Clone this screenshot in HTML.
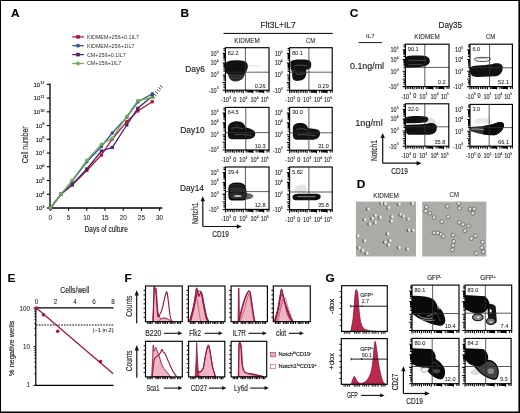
<!DOCTYPE html>
<html><head><meta charset="utf-8"><style>
html,body{margin:0;padding:0;background:#fff;width:520px;height:413px;overflow:hidden}
svg{display:block}
text{font-family:"Liberation Sans",sans-serif;stroke:#222;stroke-width:0.14px}
</style></head><body>
<svg width="520" height="413" viewBox="0 0 520 413" font-family="Liberation Sans, sans-serif">
<filter id="gb" x="0" y="0" width="1" height="1" color-interpolation-filters="sRGB"><feGaussianBlur stdDeviation="0.35"/></filter>
<g filter="url(#gb)">
<rect x="0" y="0" width="520" height="413" fill="#fff"/>
<text x="11" y="17.4" font-size="11" font-weight="bold" fill="#000" transform="translate(11,0) scale(1.08,1) translate(-11,0)">A</text>
<text x="180.5" y="17.0" font-size="11" font-weight="bold" fill="#000" transform="translate(180.5,0) scale(1.08,1) translate(-180.5,0)">B</text>
<text x="349.8" y="17.2" font-size="11" font-weight="bold" fill="#000" transform="translate(349.8,0) scale(1.08,1) translate(-349.8,0)">C</text>
<text x="356.8" y="188.4" font-size="11" font-weight="bold" fill="#000" transform="translate(356.8,0) scale(1.08,1) translate(-356.8,0)">D</text>
<text x="7.4" y="282.0" font-size="11" font-weight="bold" fill="#000" transform="translate(7.4,0) scale(1.08,1) translate(-7.4,0)">E</text>
<text x="124.6" y="282.0" font-size="11" font-weight="bold" fill="#000" transform="translate(124.6,0) scale(1.08,1) translate(-124.6,0)">F</text>
<text x="325.6" y="282.0" font-size="11" font-weight="bold" fill="#000" transform="translate(325.6,0) scale(1.08,1) translate(-325.6,0)">G</text>
<line x1="72.3" y1="36.9" x2="83.8" y2="36.9" stroke="#b0163a" stroke-width="1.3" />
<rect x="76.2" y="35.1" width="3.6" height="3.6" fill="#b0163a"/>
<text x="86.9" y="38.8" font-size="5.4" fill="#333" style="stroke-width:0">KIDMEM+25ß+0.1IL7</text>
<line x1="72.3" y1="45.7" x2="83.8" y2="45.7" stroke="#2c5592" stroke-width="1.3" />
<circle cx="78" cy="45.7" r="1.9" fill="#2c5592"/>
<text x="86.9" y="47.6" font-size="5.4" fill="#333" style="stroke-width:0">KIDMEM+25ß+1IL7</text>
<line x1="72.3" y1="54.6" x2="83.8" y2="54.6" stroke="#4a2468" stroke-width="1.3" />
<rect x="76.2" y="52.800000000000004" width="3.6" height="3.6" fill="#4a2468"/>
<text x="86.9" y="56.5" font-size="5.4" fill="#333" style="stroke-width:0">CM+25ß+0.1IL7</text>
<line x1="72.3" y1="63.5" x2="83.8" y2="63.5" stroke="#72ad58" stroke-width="1.3" />
<circle cx="78" cy="63.5" r="1.9" fill="#72ad58"/>
<text x="86.9" y="65.4" font-size="5.4" fill="#333" style="stroke-width:0">CM+25ß+1IL7</text>
<line x1="50" y1="83.5" x2="50" y2="208.6" stroke="#000" stroke-width="1.3" />
<line x1="49.4" y1="208" x2="162.3" y2="208" stroke="#000" stroke-width="1.3" />
<line x1="46.8" y1="208.0" x2="50" y2="208.0" stroke="#000" stroke-width="1.1" />
<text x="44.6" y="210.40" font-size="6.0" text-anchor="end" fill="#1a1a1a">10<tspan font-size="4.0" dy="-2.6">3</tspan></text>
<line x1="46.8" y1="194.26" x2="50" y2="194.26" stroke="#000" stroke-width="1.1" />
<text x="44.6" y="196.66" font-size="6.0" text-anchor="end" fill="#1a1a1a">10<tspan font-size="4.0" dy="-2.6">4</tspan></text>
<line x1="46.8" y1="180.52" x2="50" y2="180.52" stroke="#000" stroke-width="1.1" />
<text x="44.6" y="182.92" font-size="6.0" text-anchor="end" fill="#1a1a1a">10<tspan font-size="4.0" dy="-2.6">5</tspan></text>
<line x1="46.8" y1="166.78" x2="50" y2="166.78" stroke="#000" stroke-width="1.1" />
<text x="44.6" y="169.18" font-size="6.0" text-anchor="end" fill="#1a1a1a">10<tspan font-size="4.0" dy="-2.6">6</tspan></text>
<line x1="46.8" y1="153.04" x2="50" y2="153.04" stroke="#000" stroke-width="1.1" />
<text x="44.6" y="155.44" font-size="6.0" text-anchor="end" fill="#1a1a1a">10<tspan font-size="4.0" dy="-2.6">7</tspan></text>
<line x1="46.8" y1="139.3" x2="50" y2="139.3" stroke="#000" stroke-width="1.1" />
<text x="44.6" y="141.70" font-size="6.0" text-anchor="end" fill="#1a1a1a">10<tspan font-size="4.0" dy="-2.6">8</tspan></text>
<line x1="46.8" y1="125.56" x2="50" y2="125.56" stroke="#000" stroke-width="1.1" />
<text x="44.6" y="127.96" font-size="6.0" text-anchor="end" fill="#1a1a1a">10<tspan font-size="4.0" dy="-2.6">9</tspan></text>
<line x1="46.8" y1="111.82" x2="50" y2="111.82" stroke="#000" stroke-width="1.1" />
<text x="44.6" y="114.22" font-size="6.0" text-anchor="end" fill="#1a1a1a">10<tspan font-size="4.0" dy="-2.6">10</tspan></text>
<line x1="46.8" y1="98.08" x2="50" y2="98.08" stroke="#000" stroke-width="1.1" />
<text x="44.6" y="100.48" font-size="6.0" text-anchor="end" fill="#1a1a1a">10<tspan font-size="4.0" dy="-2.6">11</tspan></text>
<line x1="46.8" y1="84.34" x2="50" y2="84.34" stroke="#000" stroke-width="1.1" />
<text x="44.6" y="86.74" font-size="6.0" text-anchor="end" fill="#1a1a1a">10<tspan font-size="4.0" dy="-2.6">12</tspan></text>
<line x1="50.4" y1="208" x2="50.4" y2="211" stroke="#000" stroke-width="1.0" />
<text x="50.4" y="219.8" font-size="6.4" text-anchor="middle" fill="#1a1a1a"  style="stroke-width:0.05px">0</text>
<line x1="68.6" y1="208" x2="68.6" y2="211" stroke="#000" stroke-width="1.0" />
<text x="68.6" y="219.8" font-size="6.4" text-anchor="middle" fill="#1a1a1a"  style="stroke-width:0.05px">5</text>
<line x1="86.8" y1="208" x2="86.8" y2="211" stroke="#000" stroke-width="1.0" />
<text x="86.8" y="219.8" font-size="6.4" text-anchor="middle" fill="#1a1a1a"  style="stroke-width:0.05px">10</text>
<line x1="105.0" y1="208" x2="105.0" y2="211" stroke="#000" stroke-width="1.0" />
<text x="105.0" y="219.8" font-size="6.4" text-anchor="middle" fill="#1a1a1a"  style="stroke-width:0.05px">15</text>
<line x1="123.19999999999999" y1="208" x2="123.19999999999999" y2="211" stroke="#000" stroke-width="1.0" />
<text x="123.19999999999999" y="219.8" font-size="6.4" text-anchor="middle" fill="#1a1a1a"  style="stroke-width:0.05px">20</text>
<line x1="141.4" y1="208" x2="141.4" y2="211" stroke="#000" stroke-width="1.0" />
<text x="141.4" y="219.8" font-size="6.4" text-anchor="middle" fill="#1a1a1a"  style="stroke-width:0.05px">25</text>
<line x1="159.6" y1="208" x2="159.6" y2="211" stroke="#000" stroke-width="1.0" />
<text x="159.6" y="219.8" font-size="6.4" text-anchor="middle" fill="#1a1a1a"  style="stroke-width:0.05px">30</text>
<text x="84.6" y="232.2" font-size="8.8" textLength="43.3" lengthAdjust="spacingAndGlyphs" fill="#1a1a1a" >Days of culture</text>
<text transform="translate(28.4,144.9) rotate(-90)" x="0" y="0" font-size="8.6" text-anchor="middle" textLength="36.8" lengthAdjust="spacingAndGlyphs" fill="#1a1a1a">Cell number</text>
<polyline points="50.4,208.0 61.3,194.0 72.2,185.0 86.8,170.5 101.4,155.0 112.3,139.0 126.8,121.7 137.8,110.9 152.3,101.7" fill="none" stroke="#b0163a" stroke-width="1.3"/>
<rect x="48.8" y="206.4" width="3.2" height="3.2" fill="#b0163a"/>
<rect x="59.7" y="192.4" width="3.2" height="3.2" fill="#b0163a"/>
<rect x="70.6" y="183.4" width="3.2" height="3.2" fill="#b0163a"/>
<rect x="85.2" y="168.9" width="3.2" height="3.2" fill="#b0163a"/>
<rect x="99.8" y="153.4" width="3.2" height="3.2" fill="#b0163a"/>
<rect x="110.7" y="137.4" width="3.2" height="3.2" fill="#b0163a"/>
<rect x="125.2" y="120.1" width="3.2" height="3.2" fill="#b0163a"/>
<rect x="136.2" y="109.3" width="3.2" height="3.2" fill="#b0163a"/>
<rect x="150.7" y="100.1" width="3.2" height="3.2" fill="#b0163a"/>
<polyline points="50.4,208.0 61.3,194.0 72.2,184.5 86.8,169.0 101.4,151.0 112.3,147.4 126.8,125.0 137.8,108.3 152.3,96.3" fill="none" stroke="#4a2468" stroke-width="1.3"/>
<rect x="48.8" y="206.4" width="3.2" height="3.2" fill="#4a2468"/>
<rect x="59.7" y="192.4" width="3.2" height="3.2" fill="#4a2468"/>
<rect x="70.6" y="182.9" width="3.2" height="3.2" fill="#4a2468"/>
<rect x="85.2" y="167.4" width="3.2" height="3.2" fill="#4a2468"/>
<rect x="99.8" y="149.4" width="3.2" height="3.2" fill="#4a2468"/>
<rect x="110.7" y="145.8" width="3.2" height="3.2" fill="#4a2468"/>
<rect x="125.2" y="123.4" width="3.2" height="3.2" fill="#4a2468"/>
<rect x="136.2" y="106.7" width="3.2" height="3.2" fill="#4a2468"/>
<rect x="150.7" y="94.7" width="3.2" height="3.2" fill="#4a2468"/>
<polyline points="50.4,208.0 61.3,194.0 72.2,181.2 86.8,161.8 101.4,146.5 112.3,133.0 126.8,117.2 137.8,102.0 152.3,93.8" fill="none" stroke="#2c5592" stroke-width="1.3"/>
<circle cx="50.4" cy="208.0" r="1.8" fill="#2c5592"/>
<circle cx="61.3" cy="194.0" r="1.8" fill="#2c5592"/>
<circle cx="72.2" cy="181.2" r="1.8" fill="#2c5592"/>
<circle cx="86.8" cy="161.8" r="1.8" fill="#2c5592"/>
<circle cx="101.4" cy="146.5" r="1.8" fill="#2c5592"/>
<circle cx="112.3" cy="133.0" r="1.8" fill="#2c5592"/>
<circle cx="126.8" cy="117.2" r="1.8" fill="#2c5592"/>
<circle cx="137.8" cy="102.0" r="1.8" fill="#2c5592"/>
<circle cx="152.3" cy="93.8" r="1.8" fill="#2c5592"/>
<polyline points="50.4,208.0 61.3,194.0 72.2,180.3 86.8,160.3 101.4,144.3 112.3,138.3 126.8,116.3 137.8,100.6 152.3,97.5" fill="none" stroke="#72ad58" stroke-width="1.3"/>
<circle cx="50.4" cy="208.0" r="1.8" fill="#72ad58"/>
<circle cx="61.3" cy="194.0" r="1.8" fill="#72ad58"/>
<circle cx="72.2" cy="180.3" r="1.8" fill="#72ad58"/>
<circle cx="86.8" cy="160.3" r="1.8" fill="#72ad58"/>
<circle cx="101.4" cy="144.3" r="1.8" fill="#72ad58"/>
<circle cx="112.3" cy="138.3" r="1.8" fill="#72ad58"/>
<circle cx="126.8" cy="116.3" r="1.8" fill="#72ad58"/>
<circle cx="137.8" cy="100.6" r="1.8" fill="#72ad58"/>
<circle cx="152.3" cy="97.5" r="1.8" fill="#72ad58"/>
<line x1="152.1" y1="95.7" x2="154.9" y2="98.0" stroke="#3a3a3a" stroke-width="0.9" />
<line x1="153.65" y1="93.60000000000001" x2="156.45000000000002" y2="95.9" stroke="#3a3a3a" stroke-width="0.9" />
<line x1="155.2" y1="91.5" x2="158.0" y2="93.8" stroke="#3a3a3a" stroke-width="0.9" />
<line x1="156.75" y1="89.4" x2="159.55" y2="91.7" stroke="#3a3a3a" stroke-width="0.9" />
<line x1="158.29999999999998" y1="87.3" x2="161.1" y2="89.6" stroke="#3a3a3a" stroke-width="0.9" />
<line x1="159.85" y1="85.2" x2="162.65" y2="87.5" stroke="#3a3a3a" stroke-width="0.9" />
<text x="260.4" y="28" font-size="8.5" textLength="35.3" lengthAdjust="spacingAndGlyphs" fill="#1a1a1a" >Flt3L+IL7</text>
<line x1="223.5" y1="33.4" x2="332.7" y2="33.4" stroke="#000" stroke-width="1.0" />
<text x="234.3" y="42.6" font-size="6.3" textLength="25.4" lengthAdjust="spacingAndGlyphs" fill="#1a1a1a"  style="stroke-width:0.05px">KIDMEM</text>
<text x="305.9" y="42.6" font-size="6.3" textLength="9.2" lengthAdjust="spacingAndGlyphs" fill="#1a1a1a"  style="stroke-width:0.05px">CM</text>
<text x="185.3" y="72.4" font-size="8.6" textLength="19.6" lengthAdjust="spacingAndGlyphs" fill="#1a1a1a" >Day6</text>
<text x="180.2" y="132.8" font-size="8.6" textLength="24.4" lengthAdjust="spacingAndGlyphs" fill="#1a1a1a" >Day10</text>
<text x="179.9" y="191.2" font-size="8.6" textLength="24.1" lengthAdjust="spacingAndGlyphs" fill="#1a1a1a" >Day14</text>
<clipPath id="f225_47"><rect x="225.4" y="47.7" width="43.60" height="42.50"/></clipPath>
<g clip-path="url(#f225_47)">
<g transform="translate(220,45) scale(0.12092)"><path d="M62,225 C90,222 190,222 205,238 C202,272 175,302 130,302 C95,302 75,282 68,250 Z" fill="#353535" stroke="none" stroke-width="0" /></g>
<g transform="translate(220,45) scale(0.12092)"><path d="M100,260 C115,250 150,255 165,270 M90,285 C110,290 150,292 170,282" fill="none" stroke="#222" stroke-width="8" /></g>
<g transform="translate(220,45) scale(0.12092)"><path d="M48,150 C60,128 120,125 170,128 C215,130 232,150 230,180 C228,205 215,228 200,242 C150,248 100,244 60,238 L48,232 Z" fill="#111" stroke="none" stroke-width="0" /></g>
<g transform="translate(220,45) scale(0.12092)"><path d="M235,162 L330,165 L335,185 L235,185 Z" fill="#eee" stroke="none" stroke-width="0" /></g>
</g>
<line x1="245.4" y1="47.7" x2="245.4" y2="90.2" stroke="#333" stroke-width="0.8" />
<line x1="225.4" y1="72.2" x2="269" y2="72.2" stroke="#333" stroke-width="0.8" />
<rect x="225.4" y="47.7" width="43.60" height="42.50" fill="none" stroke="#000" stroke-width="1.15"/>
<path d="M222.60,53.23H225.4M222.60,63.00H225.4M222.60,74.90H225.4M222.60,82.55H225.4M222.60,90.20H225.4M223.40,71.32H225.4M223.40,69.22H225.4M223.40,67.74H225.4M223.40,66.58H225.4M223.40,65.64H225.4M223.40,64.84H225.4M223.40,64.15H225.4M223.40,63.54H225.4M223.40,60.06H225.4M223.40,58.34H225.4M223.40,57.11H225.4M223.40,56.17H225.4M223.40,55.39H225.4M223.40,54.74H225.4M223.40,54.17H225.4M223.40,53.67H225.4M223.40,50.28H225.4M223.40,48.56H225.4M223.40,76.60H225.4M223.40,78.30H225.4M223.40,80.00H225.4M223.40,84.25H225.4M223.40,85.95H225.4M223.40,87.65H225.4M225.40,90.2V93.20M234.12,90.2V93.20M243.28,90.2V93.20M252.87,90.2V93.20M263.77,90.2V93.20M246.16,90.2V92.60M247.85,90.2V92.60M249.05,90.2V92.60M249.98,90.2V92.60M250.74,90.2V92.60M251.38,90.2V92.60M251.94,90.2V92.60M252.43,90.2V92.60M256.15,90.2V92.60M258.07,90.2V92.60M259.43,90.2V92.60M260.49,90.2V92.60M261.35,90.2V92.60M262.08,90.2V92.60M262.71,90.2V92.60M263.27,90.2V92.60M267.05,90.2V92.60M268.97,90.2V92.60M227.14,90.2V92.60M228.89,90.2V92.60M230.63,90.2V92.60M232.38,90.2V92.60M236.30,90.2V92.60M238.04,90.2V92.60M239.79,90.2V92.60M241.53,90.2V92.60" stroke="#000" stroke-width="1.05" fill="none"/>
<text x="227.8" y="54.7" font-size="5.6" fill="#1a1a1a"  style="stroke-width:0.05px">82.2</text>
<text x="265.6" y="87.8" font-size="5.6" text-anchor="end" fill="#1a1a1a"  style="stroke-width:0.05px">0.26</text>
<text transform="translate(218.50,55.60) scale(0.84,1)" x="0" y="0" font-size="6.6" text-anchor="end" fill="#1a1a1a" style="stroke-width:0.1px">10<tspan font-size="3.96" dy="-3.10">5</tspan></text>
<text transform="translate(218.50,65.30) scale(0.84,1)" x="0" y="0" font-size="6.6" text-anchor="end" fill="#1a1a1a" style="stroke-width:0.1px">10<tspan font-size="3.96" dy="-3.10">4</tspan></text>
<text transform="translate(218.50,77.40) scale(0.84,1)" x="0" y="0" font-size="6.6" text-anchor="end" fill="#1a1a1a" style="stroke-width:0.1px">10<tspan font-size="3.96" dy="-3.10">3</tspan></text>
<text transform="translate(218.50,92.50) scale(0.84,1)" x="0" y="0" font-size="6.6" text-anchor="end" fill="#1a1a1a" style="stroke-width:0.1px">-10<tspan font-size="3.96" dy="-3.10">3</tspan></text>
<text transform="translate(226.10,102.10) scale(0.84,1)" x="0" y="0" font-size="6.6" text-anchor="middle" fill="#1a1a1a" style="stroke-width:0.1px">-10<tspan font-size="3.96" dy="-3.10">3</tspan></text>
<text x="234.70000000000002" y="102.10000000000001" font-size="6.6" text-anchor="middle" fill="#1a1a1a" transform="translate(234.70,0) scale(0.84,1) translate(-234.70,0)">0</text>
<text transform="translate(243.30,102.10) scale(0.84,1)" x="0" y="0" font-size="6.6" text-anchor="middle" fill="#1a1a1a" style="stroke-width:0.1px">10<tspan font-size="3.96" dy="-3.10">3</tspan></text>
<text transform="translate(254.50,102.10) scale(0.84,1)" x="0" y="0" font-size="6.6" text-anchor="middle" fill="#1a1a1a" style="stroke-width:0.1px">10<tspan font-size="3.96" dy="-3.10">4</tspan></text>
<text transform="translate(264.70,102.10) scale(0.84,1)" x="0" y="0" font-size="6.6" text-anchor="middle" fill="#1a1a1a" style="stroke-width:0.1px">10<tspan font-size="3.96" dy="-3.10">5</tspan></text>
<clipPath id="f289_47"><rect x="289.6" y="47.7" width="42.60" height="42.60"/></clipPath>
<g clip-path="url(#f289_47)">
<g transform="translate(285,45) scale(0.12092)"><path d="M45,140 C60,118 120,118 180,122 C215,125 222,150 215,180 C210,198 195,205 175,205 C180,235 175,270 150,285 C120,300 85,300 70,290 C55,270 60,240 60,220 C50,215 45,190 45,160 Z" fill="#111" stroke="none" stroke-width="0" /></g>
<g transform="translate(285,45) scale(0.12092)"><path d="M80,170 C110,163 150,166 182,172 M90,238 C110,244 140,244 160,236 M62,212 L85,212" fill="none" stroke="#777" stroke-width="5" /></g>
</g>
<line x1="308.9" y1="47.7" x2="308.9" y2="90.3" stroke="#333" stroke-width="0.8" />
<line x1="289.6" y1="72.2" x2="332.2" y2="72.2" stroke="#333" stroke-width="0.8" />
<rect x="289.6" y="47.7" width="42.60" height="42.60" fill="none" stroke="#000" stroke-width="1.15"/>
<path d="M286.80,53.24H289.6M286.80,63.04H289.6M286.80,74.96H289.6M286.80,82.63H289.6M286.80,90.30H289.6M287.60,71.37H289.6M287.60,69.27H289.6M287.60,67.78H289.6M287.60,66.63H289.6M287.60,65.68H289.6M287.60,64.88H289.6M287.60,64.19H289.6M287.60,63.58H289.6M287.60,60.09H289.6M287.60,58.36H289.6M287.60,57.14H289.6M287.60,56.19H289.6M287.60,55.41H289.6M287.60,54.76H289.6M287.60,54.19H289.6M287.60,53.69H289.6M287.60,50.29H289.6M287.60,48.56H289.6M287.60,76.67H289.6M287.60,78.37H289.6M287.60,80.08H289.6M287.60,84.34H289.6M287.60,86.04H289.6M287.60,87.74H289.6M289.60,90.3V93.30M298.12,90.3V93.30M307.07,90.3V93.30M316.44,90.3V93.30M327.09,90.3V93.30M309.89,90.3V92.70M311.54,90.3V92.70M312.71,90.3V92.70M313.62,90.3V92.70M314.36,90.3V92.70M314.99,90.3V92.70M315.53,90.3V92.70M316.01,90.3V92.70M319.64,90.3V92.70M321.52,90.3V92.70M322.85,90.3V92.70M323.88,90.3V92.70M324.73,90.3V92.70M325.44,90.3V92.70M326.06,90.3V92.70M326.60,90.3V92.70M330.29,90.3V92.70M332.17,90.3V92.70M291.30,90.3V92.70M293.01,90.3V92.70M294.71,90.3V92.70M296.42,90.3V92.70M300.25,90.3V92.70M301.95,90.3V92.70M303.66,90.3V92.70M305.36,90.3V92.70" stroke="#000" stroke-width="1.05" fill="none"/>
<text x="292.0" y="54.7" font-size="5.6" fill="#1a1a1a"  style="stroke-width:0.05px">80.1</text>
<text x="328.8" y="87.89999999999999" font-size="5.6" text-anchor="end" fill="#1a1a1a"  style="stroke-width:0.05px">0.29</text>
<text transform="translate(282.70,55.61) scale(0.84,1)" x="0" y="0" font-size="6.6" text-anchor="end" fill="#1a1a1a" style="stroke-width:0.1px">10<tspan font-size="3.96" dy="-3.10">5</tspan></text>
<text transform="translate(282.70,65.34) scale(0.84,1)" x="0" y="0" font-size="6.6" text-anchor="end" fill="#1a1a1a" style="stroke-width:0.1px">10<tspan font-size="3.96" dy="-3.10">4</tspan></text>
<text transform="translate(282.70,77.46) scale(0.84,1)" x="0" y="0" font-size="6.6" text-anchor="end" fill="#1a1a1a" style="stroke-width:0.1px">10<tspan font-size="3.96" dy="-3.10">3</tspan></text>
<text transform="translate(282.70,92.60) scale(0.84,1)" x="0" y="0" font-size="6.6" text-anchor="end" fill="#1a1a1a" style="stroke-width:0.1px">-10<tspan font-size="3.96" dy="-3.10">3</tspan></text>
<text transform="translate(290.28,102.20) scale(0.84,1)" x="0" y="0" font-size="6.6" text-anchor="middle" fill="#1a1a1a" style="stroke-width:0.1px">-10<tspan font-size="3.96" dy="-3.10">3</tspan></text>
<text x="298.68669724770643" y="102.2" font-size="6.6" text-anchor="middle" fill="#1a1a1a" transform="translate(298.69,0) scale(0.84,1) translate(-298.69,0)">0</text>
<text transform="translate(307.09,102.20) scale(0.84,1)" x="0" y="0" font-size="6.6" text-anchor="middle" fill="#1a1a1a" style="stroke-width:0.1px">10<tspan font-size="3.96" dy="-3.10">3</tspan></text>
<text transform="translate(318.03,102.20) scale(0.84,1)" x="0" y="0" font-size="6.6" text-anchor="middle" fill="#1a1a1a" style="stroke-width:0.1px">10<tspan font-size="3.96" dy="-3.10">4</tspan></text>
<text transform="translate(328.00,102.20) scale(0.84,1)" x="0" y="0" font-size="6.6" text-anchor="middle" fill="#1a1a1a" style="stroke-width:0.1px">10<tspan font-size="3.96" dy="-3.10">5</tspan></text>
<clipPath id="f225_107"><rect x="225.4" y="107.4" width="43.60" height="42.60"/></clipPath>
<g clip-path="url(#f225_107)">
<g transform="translate(220,104) scale(0.12092)"><path d="M65,200 C65,160 100,142 140,142 C185,142 205,165 212,195 C245,200 292,215 292,245 C292,278 262,292 200,292 L100,292 C75,292 65,278 65,250 Z" fill="#111" stroke="none" stroke-width="0" /></g>
<g transform="translate(220,104) scale(0.12092)"><path d="M120,255 C150,248 200,255 262,258 M95,200 C130,192 170,196 192,206 M130,175 L140,175" fill="none" stroke="#777" stroke-width="5" /></g>
</g>
<line x1="245.8" y1="107.4" x2="245.8" y2="150" stroke="#333" stroke-width="0.8" />
<line x1="225.4" y1="132.6" x2="269" y2="132.6" stroke="#333" stroke-width="0.8" />
<rect x="225.4" y="107.4" width="43.60" height="42.60" fill="none" stroke="#000" stroke-width="1.15"/>
<path d="M222.60,112.94H225.4M222.60,122.74H225.4M222.60,134.66H225.4M222.60,142.33H225.4M222.60,150.00H225.4M223.40,131.07H225.4M223.40,128.97H225.4M223.40,127.48H225.4M223.40,126.33H225.4M223.40,125.38H225.4M223.40,124.58H225.4M223.40,123.89H225.4M223.40,123.28H225.4M223.40,119.79H225.4M223.40,118.06H225.4M223.40,116.84H225.4M223.40,115.89H225.4M223.40,115.11H225.4M223.40,114.46H225.4M223.40,113.89H225.4M223.40,113.39H225.4M223.40,109.99H225.4M223.40,108.26H225.4M223.40,136.37H225.4M223.40,138.07H225.4M223.40,139.78H225.4M223.40,144.04H225.4M223.40,145.74H225.4M223.40,147.44H225.4M225.40,150V153.00M234.12,150V153.00M243.28,150V153.00M252.87,150V153.00M263.77,150V153.00M246.16,150V152.40M247.85,150V152.40M249.05,150V152.40M249.98,150V152.40M250.74,150V152.40M251.38,150V152.40M251.94,150V152.40M252.43,150V152.40M256.15,150V152.40M258.07,150V152.40M259.43,150V152.40M260.49,150V152.40M261.35,150V152.40M262.08,150V152.40M262.71,150V152.40M263.27,150V152.40M267.05,150V152.40M268.97,150V152.40M227.14,150V152.40M228.89,150V152.40M230.63,150V152.40M232.38,150V152.40M236.30,150V152.40M238.04,150V152.40M239.79,150V152.40M241.53,150V152.40" stroke="#000" stroke-width="1.05" fill="none"/>
<text x="227.8" y="114.4" font-size="5.6" fill="#1a1a1a"  style="stroke-width:0.05px">64.5</text>
<text x="265.6" y="147.6" font-size="5.6" text-anchor="end" fill="#1a1a1a"  style="stroke-width:0.05px">10.3</text>
<text transform="translate(218.50,115.31) scale(0.84,1)" x="0" y="0" font-size="6.6" text-anchor="end" fill="#1a1a1a" style="stroke-width:0.1px">10<tspan font-size="3.96" dy="-3.10">5</tspan></text>
<text transform="translate(218.50,125.04) scale(0.84,1)" x="0" y="0" font-size="6.6" text-anchor="end" fill="#1a1a1a" style="stroke-width:0.1px">10<tspan font-size="3.96" dy="-3.10">4</tspan></text>
<text transform="translate(218.50,137.16) scale(0.84,1)" x="0" y="0" font-size="6.6" text-anchor="end" fill="#1a1a1a" style="stroke-width:0.1px">10<tspan font-size="3.96" dy="-3.10">3</tspan></text>
<text transform="translate(218.50,152.30) scale(0.84,1)" x="0" y="0" font-size="6.6" text-anchor="end" fill="#1a1a1a" style="stroke-width:0.1px">-10<tspan font-size="3.96" dy="-3.10">3</tspan></text>
<text transform="translate(226.10,161.90) scale(0.84,1)" x="0" y="0" font-size="6.6" text-anchor="middle" fill="#1a1a1a" style="stroke-width:0.1px">-10<tspan font-size="3.96" dy="-3.10">3</tspan></text>
<text x="234.70000000000002" y="161.9" font-size="6.6" text-anchor="middle" fill="#1a1a1a" transform="translate(234.70,0) scale(0.84,1) translate(-234.70,0)">0</text>
<text transform="translate(243.30,161.90) scale(0.84,1)" x="0" y="0" font-size="6.6" text-anchor="middle" fill="#1a1a1a" style="stroke-width:0.1px">10<tspan font-size="3.96" dy="-3.10">3</tspan></text>
<text transform="translate(254.50,161.90) scale(0.84,1)" x="0" y="0" font-size="6.6" text-anchor="middle" fill="#1a1a1a" style="stroke-width:0.1px">10<tspan font-size="3.96" dy="-3.10">4</tspan></text>
<text transform="translate(264.70,161.90) scale(0.84,1)" x="0" y="0" font-size="6.6" text-anchor="middle" fill="#1a1a1a" style="stroke-width:0.1px">10<tspan font-size="3.96" dy="-3.10">5</tspan></text>
<clipPath id="f289_107"><rect x="289.6" y="107.4" width="42.60" height="42.80"/></clipPath>
<g clip-path="url(#f289_107)">
<g transform="translate(285,104) scale(0.12092)"><path d="M65,205 C65,170 90,158 125,158 C165,158 185,175 190,200 C220,200 290,205 290,235 C290,275 270,295 220,295 L100,295 C75,295 65,280 65,260 Z" fill="#111" stroke="none" stroke-width="0" /></g>
<g transform="translate(285,104) scale(0.12092)"><path d="M100,255 C140,248 200,258 252,260 M90,210 C120,203 160,204 182,214" fill="none" stroke="#777" stroke-width="5" /></g>
</g>
<line x1="308.9" y1="107.4" x2="308.9" y2="150.2" stroke="#333" stroke-width="0.8" />
<line x1="289.6" y1="132.8" x2="332.2" y2="132.8" stroke="#333" stroke-width="0.8" />
<rect x="289.6" y="107.4" width="42.60" height="42.80" fill="none" stroke="#000" stroke-width="1.15"/>
<path d="M286.80,112.96H289.6M286.80,122.81H289.6M286.80,134.79H289.6M286.80,142.50H289.6M286.80,150.20H289.6M287.60,131.18H289.6M287.60,129.07H289.6M287.60,127.58H289.6M287.60,126.42H289.6M287.60,125.47H289.6M287.60,124.66H289.6M287.60,123.97H289.6M287.60,123.36H289.6M287.60,119.84H289.6M287.60,118.11H289.6M287.60,116.88H289.6M287.60,115.93H289.6M287.60,115.15H289.6M287.60,114.49H289.6M287.60,113.92H289.6M287.60,113.41H289.6M287.60,110.00H289.6M287.60,108.27H289.6M287.60,136.50H289.6M287.60,138.22H289.6M287.60,139.93H289.6M287.60,144.21H289.6M287.60,145.92H289.6M287.60,147.63H289.6M289.60,150.2V153.20M298.12,150.2V153.20M307.07,150.2V153.20M316.44,150.2V153.20M327.09,150.2V153.20M309.89,150.2V152.60M311.54,150.2V152.60M312.71,150.2V152.60M313.62,150.2V152.60M314.36,150.2V152.60M314.99,150.2V152.60M315.53,150.2V152.60M316.01,150.2V152.60M319.64,150.2V152.60M321.52,150.2V152.60M322.85,150.2V152.60M323.88,150.2V152.60M324.73,150.2V152.60M325.44,150.2V152.60M326.06,150.2V152.60M326.60,150.2V152.60M330.29,150.2V152.60M332.17,150.2V152.60M291.30,150.2V152.60M293.01,150.2V152.60M294.71,150.2V152.60M296.42,150.2V152.60M300.25,150.2V152.60M301.95,150.2V152.60M303.66,150.2V152.60M305.36,150.2V152.60" stroke="#000" stroke-width="1.05" fill="none"/>
<text x="292.0" y="114.4" font-size="5.6" fill="#1a1a1a"  style="stroke-width:0.05px">30.0</text>
<text x="328.8" y="147.79999999999998" font-size="5.6" text-anchor="end" fill="#1a1a1a"  style="stroke-width:0.05px">31.0</text>
<text transform="translate(282.70,115.34) scale(0.84,1)" x="0" y="0" font-size="6.6" text-anchor="end" fill="#1a1a1a" style="stroke-width:0.1px">10<tspan font-size="3.96" dy="-3.10">5</tspan></text>
<text transform="translate(282.70,125.11) scale(0.84,1)" x="0" y="0" font-size="6.6" text-anchor="end" fill="#1a1a1a" style="stroke-width:0.1px">10<tspan font-size="3.96" dy="-3.10">4</tspan></text>
<text transform="translate(282.70,137.29) scale(0.84,1)" x="0" y="0" font-size="6.6" text-anchor="end" fill="#1a1a1a" style="stroke-width:0.1px">10<tspan font-size="3.96" dy="-3.10">3</tspan></text>
<text transform="translate(282.70,152.50) scale(0.84,1)" x="0" y="0" font-size="6.6" text-anchor="end" fill="#1a1a1a" style="stroke-width:0.1px">-10<tspan font-size="3.96" dy="-3.10">3</tspan></text>
<text transform="translate(290.28,162.10) scale(0.84,1)" x="0" y="0" font-size="6.6" text-anchor="middle" fill="#1a1a1a" style="stroke-width:0.1px">-10<tspan font-size="3.96" dy="-3.10">3</tspan></text>
<text x="298.68669724770643" y="162.1" font-size="6.6" text-anchor="middle" fill="#1a1a1a" transform="translate(298.69,0) scale(0.84,1) translate(-298.69,0)">0</text>
<text transform="translate(307.09,162.10) scale(0.84,1)" x="0" y="0" font-size="6.6" text-anchor="middle" fill="#1a1a1a" style="stroke-width:0.1px">10<tspan font-size="3.96" dy="-3.10">3</tspan></text>
<text transform="translate(318.03,162.10) scale(0.84,1)" x="0" y="0" font-size="6.6" text-anchor="middle" fill="#1a1a1a" style="stroke-width:0.1px">10<tspan font-size="3.96" dy="-3.10">4</tspan></text>
<text transform="translate(328.00,162.10) scale(0.84,1)" x="0" y="0" font-size="6.6" text-anchor="middle" fill="#1a1a1a" style="stroke-width:0.1px">10<tspan font-size="3.96" dy="-3.10">5</tspan></text>
<clipPath id="f225_167"><rect x="225.4" y="167" width="43.60" height="42.40"/></clipPath>
<g clip-path="url(#f225_167)">
<g transform="translate(220,164) scale(0.12092)"><path d="M210,240 C240,240 275,250 275,265 C275,285 240,295 200,295 Z" fill="#666" stroke="none" stroke-width="0" /></g>
<g transform="translate(220,164) scale(0.12092)"><path d="M75,200 C75,170 100,160 140,160 C185,160 205,175 210,200 L215,250 C215,280 210,295 190,295 L100,295 C80,295 75,280 75,260 Z" fill="#2a2a2a" stroke="#0a0a0a" stroke-width="12" /></g>
<g transform="translate(220,164) scale(0.12092)"><path d="M90,190 C120,180 170,182 200,195 M85,235 C120,228 170,230 205,240" fill="none" stroke="#0a0a0a" stroke-width="9" /></g>
<g transform="translate(220,164) scale(0.12092)"><path d="M110,265 C120,255 170,255 185,265 C170,275 120,275 110,265 Z" fill="#ddd" stroke="none" stroke-width="0" /></g>
</g>
<line x1="245.4" y1="167" x2="245.4" y2="209.4" stroke="#333" stroke-width="0.8" />
<line x1="225.4" y1="191.6" x2="269" y2="191.6" stroke="#333" stroke-width="0.8" />
<rect x="225.4" y="167" width="43.60" height="42.40" fill="none" stroke="#000" stroke-width="1.15"/>
<path d="M222.60,172.51H225.4M222.60,182.26H225.4M222.60,194.14H225.4M222.60,201.77H225.4M222.60,209.40H225.4M223.40,190.56H225.4M223.40,188.47H225.4M223.40,186.99H225.4M223.40,185.84H225.4M223.40,184.90H225.4M223.40,184.10H225.4M223.40,183.41H225.4M223.40,182.81H225.4M223.40,179.33H225.4M223.40,177.61H225.4M223.40,176.39H225.4M223.40,175.45H225.4M223.40,174.68H225.4M223.40,174.02H225.4M223.40,173.46H225.4M223.40,172.96H225.4M223.40,169.58H225.4M223.40,167.86H225.4M223.40,195.83H225.4M223.40,197.53H225.4M223.40,199.22H225.4M223.40,203.46H225.4M223.40,205.16H225.4M223.40,206.86H225.4M225.40,209.4V212.40M234.12,209.4V212.40M243.28,209.4V212.40M252.87,209.4V212.40M263.77,209.4V212.40M246.16,209.4V211.80M247.85,209.4V211.80M249.05,209.4V211.80M249.98,209.4V211.80M250.74,209.4V211.80M251.38,209.4V211.80M251.94,209.4V211.80M252.43,209.4V211.80M256.15,209.4V211.80M258.07,209.4V211.80M259.43,209.4V211.80M260.49,209.4V211.80M261.35,209.4V211.80M262.08,209.4V211.80M262.71,209.4V211.80M263.27,209.4V211.80M267.05,209.4V211.80M268.97,209.4V211.80M227.14,209.4V211.80M228.89,209.4V211.80M230.63,209.4V211.80M232.38,209.4V211.80M236.30,209.4V211.80M238.04,209.4V211.80M239.79,209.4V211.80M241.53,209.4V211.80" stroke="#000" stroke-width="1.05" fill="none"/>
<text x="227.8" y="174.0" font-size="5.6" fill="#1a1a1a"  style="stroke-width:0.05px">39.4</text>
<text x="265.6" y="207.0" font-size="5.6" text-anchor="end" fill="#1a1a1a"  style="stroke-width:0.05px">12.8</text>
<text transform="translate(218.50,174.89) scale(0.84,1)" x="0" y="0" font-size="6.6" text-anchor="end" fill="#1a1a1a" style="stroke-width:0.1px">10<tspan font-size="3.96" dy="-3.10">5</tspan></text>
<text transform="translate(218.50,184.56) scale(0.84,1)" x="0" y="0" font-size="6.6" text-anchor="end" fill="#1a1a1a" style="stroke-width:0.1px">10<tspan font-size="3.96" dy="-3.10">4</tspan></text>
<text transform="translate(218.50,196.64) scale(0.84,1)" x="0" y="0" font-size="6.6" text-anchor="end" fill="#1a1a1a" style="stroke-width:0.1px">10<tspan font-size="3.96" dy="-3.10">3</tspan></text>
<text transform="translate(218.50,211.70) scale(0.84,1)" x="0" y="0" font-size="6.6" text-anchor="end" fill="#1a1a1a" style="stroke-width:0.1px">-10<tspan font-size="3.96" dy="-3.10">3</tspan></text>
<text transform="translate(226.10,221.30) scale(0.84,1)" x="0" y="0" font-size="6.6" text-anchor="middle" fill="#1a1a1a" style="stroke-width:0.1px">-10<tspan font-size="3.96" dy="-3.10">3</tspan></text>
<text x="234.70000000000002" y="221.3" font-size="6.6" text-anchor="middle" fill="#1a1a1a" transform="translate(234.70,0) scale(0.84,1) translate(-234.70,0)">0</text>
<text transform="translate(243.30,221.30) scale(0.84,1)" x="0" y="0" font-size="6.6" text-anchor="middle" fill="#1a1a1a" style="stroke-width:0.1px">10<tspan font-size="3.96" dy="-3.10">3</tspan></text>
<text transform="translate(254.50,221.30) scale(0.84,1)" x="0" y="0" font-size="6.6" text-anchor="middle" fill="#1a1a1a" style="stroke-width:0.1px">10<tspan font-size="3.96" dy="-3.10">4</tspan></text>
<text transform="translate(264.70,221.30) scale(0.84,1)" x="0" y="0" font-size="6.6" text-anchor="middle" fill="#1a1a1a" style="stroke-width:0.1px">10<tspan font-size="3.96" dy="-3.10">5</tspan></text>
<clipPath id="f289_167"><rect x="289.6" y="167" width="42.60" height="42.70"/></clipPath>
<g clip-path="url(#f289_167)">
<g transform="translate(285,164) scale(0.12092)"><path d="M75,230 C80,180 120,165 170,175 C185,190 180,220 170,235 Z" fill="#e4e4e4" stroke="none" stroke-width="0" /></g>
<g transform="translate(285,164) scale(0.12092)"><path d="M62,270 C62,248 90,245 150,245 L250,245 C285,245 295,255 295,270 C295,290 270,300 230,300 L100,300 C70,300 62,290 62,270 Z" fill="#111" stroke="none" stroke-width="0" /></g>
<g transform="translate(285,164) scale(0.12092)"><path d="M105,270 L250,270" fill="none" stroke="#c8c8c8" stroke-width="5.5" /></g>
</g>
<line x1="308.9" y1="167" x2="308.9" y2="209.7" stroke="#333" stroke-width="0.8" />
<line x1="289.6" y1="192" x2="332.2" y2="192" stroke="#333" stroke-width="0.8" />
<rect x="289.6" y="167" width="42.60" height="42.70" fill="none" stroke="#000" stroke-width="1.15"/>
<path d="M286.80,172.55H289.6M286.80,182.37H289.6M286.80,194.33H289.6M286.80,202.01H289.6M286.80,209.70H289.6M287.60,190.73H289.6M287.60,188.62H289.6M287.60,187.13H289.6M287.60,185.97H289.6M287.60,185.02H289.6M287.60,184.22H289.6M287.60,183.53H289.6M287.60,182.92H289.6M287.60,179.42H289.6M287.60,177.69H289.6M287.60,176.46H289.6M287.60,175.51H289.6M287.60,174.73H289.6M287.60,174.07H289.6M287.60,173.50H289.6M287.60,173.00H289.6M287.60,169.59H289.6M287.60,167.87H289.6M287.60,196.04H289.6M287.60,197.74H289.6M287.60,199.45H289.6M287.60,203.72H289.6M287.60,205.43H289.6M287.60,207.14H289.6M289.60,209.7V212.70M298.12,209.7V212.70M307.07,209.7V212.70M316.44,209.7V212.70M327.09,209.7V212.70M309.89,209.7V212.10M311.54,209.7V212.10M312.71,209.7V212.10M313.62,209.7V212.10M314.36,209.7V212.10M314.99,209.7V212.10M315.53,209.7V212.10M316.01,209.7V212.10M319.64,209.7V212.10M321.52,209.7V212.10M322.85,209.7V212.10M323.88,209.7V212.10M324.73,209.7V212.10M325.44,209.7V212.10M326.06,209.7V212.10M326.60,209.7V212.10M330.29,209.7V212.10M332.17,209.7V212.10M291.30,209.7V212.10M293.01,209.7V212.10M294.71,209.7V212.10M296.42,209.7V212.10M300.25,209.7V212.10M301.95,209.7V212.10M303.66,209.7V212.10M305.36,209.7V212.10" stroke="#000" stroke-width="1.05" fill="none"/>
<text x="292.0" y="174.0" font-size="5.6" fill="#1a1a1a"  style="stroke-width:0.05px">5.82</text>
<text x="328.8" y="207.29999999999998" font-size="5.6" text-anchor="end" fill="#1a1a1a"  style="stroke-width:0.05px">35.8</text>
<text transform="translate(282.70,174.93) scale(0.84,1)" x="0" y="0" font-size="6.6" text-anchor="end" fill="#1a1a1a" style="stroke-width:0.1px">10<tspan font-size="3.96" dy="-3.10">5</tspan></text>
<text transform="translate(282.70,184.67) scale(0.84,1)" x="0" y="0" font-size="6.6" text-anchor="end" fill="#1a1a1a" style="stroke-width:0.1px">10<tspan font-size="3.96" dy="-3.10">4</tspan></text>
<text transform="translate(282.70,196.83) scale(0.84,1)" x="0" y="0" font-size="6.6" text-anchor="end" fill="#1a1a1a" style="stroke-width:0.1px">10<tspan font-size="3.96" dy="-3.10">3</tspan></text>
<text transform="translate(282.70,212.00) scale(0.84,1)" x="0" y="0" font-size="6.6" text-anchor="end" fill="#1a1a1a" style="stroke-width:0.1px">-10<tspan font-size="3.96" dy="-3.10">3</tspan></text>
<text transform="translate(290.28,221.60) scale(0.84,1)" x="0" y="0" font-size="6.6" text-anchor="middle" fill="#1a1a1a" style="stroke-width:0.1px">-10<tspan font-size="3.96" dy="-3.10">3</tspan></text>
<text x="298.68669724770643" y="221.6" font-size="6.6" text-anchor="middle" fill="#1a1a1a" transform="translate(298.69,0) scale(0.84,1) translate(-298.69,0)">0</text>
<text transform="translate(307.09,221.60) scale(0.84,1)" x="0" y="0" font-size="6.6" text-anchor="middle" fill="#1a1a1a" style="stroke-width:0.1px">10<tspan font-size="3.96" dy="-3.10">3</tspan></text>
<text transform="translate(318.03,221.60) scale(0.84,1)" x="0" y="0" font-size="6.6" text-anchor="middle" fill="#1a1a1a" style="stroke-width:0.1px">10<tspan font-size="3.96" dy="-3.10">4</tspan></text>
<text transform="translate(328.00,221.60) scale(0.84,1)" x="0" y="0" font-size="6.6" text-anchor="middle" fill="#1a1a1a" style="stroke-width:0.1px">10<tspan font-size="3.96" dy="-3.10">5</tspan></text>
<line x1="202.8" y1="200.8" x2="202.8" y2="226.5" stroke="#111" stroke-width="1.2" />
<path d="M202.8,196.3 L200.60000000000002,201.3 L205.0,201.3 Z" fill="#111"/>
<line x1="202.8" y1="226.5" x2="237.3" y2="226.5" stroke="#111" stroke-width="1.2" />
<path d="M241.8,226.5 L236.8,224.3 L236.8,228.7 Z" fill="#111"/>
<text transform="translate(198.2,213.3) rotate(-90)" x="0" y="0" font-size="8.6" text-anchor="middle" textLength="21.5" lengthAdjust="spacingAndGlyphs" fill="#1a1a1a">Notch1</text>
<text x="212.2" y="237.1" font-size="8.4" textLength="16.6" lengthAdjust="spacingAndGlyphs" fill="#1a1a1a" >CD19</text>
<text x="438.5" y="28.2" font-size="9.0" textLength="23.6" lengthAdjust="spacingAndGlyphs" fill="#1a1a1a" >Day35</text>
<text x="370.4" y="38.3" font-size="6.2" text-anchor="middle" fill="#1a1a1a"  style="stroke-width:0.05px">IL7</text>
<line x1="358.6" y1="42.6" x2="382" y2="42.6" stroke="#000" stroke-width="0.9" />
<text x="414.3" y="38.8" font-size="6.3" textLength="25.4" lengthAdjust="spacingAndGlyphs" fill="#1a1a1a"  style="stroke-width:0.05px">KIDMEM</text>
<text x="485.9" y="38.8" font-size="6.3" textLength="9.4" lengthAdjust="spacingAndGlyphs" fill="#1a1a1a"  style="stroke-width:0.05px">CM</text>
<text x="350" y="68.6" font-size="8.8" textLength="34" lengthAdjust="spacingAndGlyphs" fill="#1a1a1a" >0.1ng/ml</text>
<text x="355.3" y="125.6" font-size="8.8" textLength="27.4" lengthAdjust="spacingAndGlyphs" fill="#1a1a1a" >1ng/ml</text>
<clipPath id="f405_44"><rect x="405.4" y="44.2" width="43.60" height="42.40"/></clipPath>
<g clip-path="url(#f405_44)">
<g transform="translate(400,40) scale(0.12092)"><path d="M48,140 C60,128 130,125 200,130 C238,136 250,158 245,185 C237,212 200,220 160,225 L60,230 L48,226 Z" fill="#111" stroke="none" stroke-width="0" /></g>
<g transform="translate(400,40) scale(0.12092)"><path d="M70,170 C110,165 170,168 220,172 M70,205 C110,202 150,204 190,200" fill="none" stroke="#666" stroke-width="5" /></g>
</g>
<line x1="424.8" y1="44.2" x2="424.8" y2="86.6" stroke="#333" stroke-width="0.8" />
<line x1="405.4" y1="67.4" x2="449" y2="67.4" stroke="#333" stroke-width="0.8" />
<rect x="405.4" y="44.2" width="43.60" height="42.40" fill="none" stroke="#000" stroke-width="1.15"/>
<path d="M402.60,49.71H405.4M402.60,59.46H405.4M402.60,71.34H405.4M402.60,78.97H405.4M402.60,86.60H405.4M403.40,67.76H405.4M403.40,65.67H405.4M403.40,64.19H405.4M403.40,63.04H405.4M403.40,62.10H405.4M403.40,61.30H405.4M403.40,60.61H405.4M403.40,60.01H405.4M403.40,56.53H405.4M403.40,54.81H405.4M403.40,53.59H405.4M403.40,52.65H405.4M403.40,51.88H405.4M403.40,51.22H405.4M403.40,50.66H405.4M403.40,50.16H405.4M403.40,46.78H405.4M403.40,45.06H405.4M403.40,73.03H405.4M403.40,74.73H405.4M403.40,76.42H405.4M403.40,80.66H405.4M403.40,82.36H405.4M403.40,84.06H405.4M405.40,86.6V89.60M414.12,86.6V89.60M423.28,86.6V89.60M432.87,86.6V89.60M443.77,86.6V89.60M426.16,86.6V89.00M427.85,86.6V89.00M429.05,86.6V89.00M429.98,86.6V89.00M430.74,86.6V89.00M431.38,86.6V89.00M431.94,86.6V89.00M432.43,86.6V89.00M436.15,86.6V89.00M438.07,86.6V89.00M439.43,86.6V89.00M440.49,86.6V89.00M441.35,86.6V89.00M442.08,86.6V89.00M442.71,86.6V89.00M443.27,86.6V89.00M447.05,86.6V89.00M448.97,86.6V89.00M407.14,86.6V89.00M408.89,86.6V89.00M410.63,86.6V89.00M412.38,86.6V89.00M416.30,86.6V89.00M418.04,86.6V89.00M419.79,86.6V89.00M421.53,86.6V89.00" stroke="#000" stroke-width="1.05" fill="none"/>
<text x="407.79999999999995" y="51.2" font-size="5.6" fill="#1a1a1a"  style="stroke-width:0.05px">90.1</text>
<text x="445.6" y="84.19999999999999" font-size="5.6" text-anchor="end" fill="#1a1a1a"  style="stroke-width:0.05px">0.2</text>
<text transform="translate(398.50,52.09) scale(0.84,1)" x="0" y="0" font-size="6.6" text-anchor="end" fill="#1a1a1a" style="stroke-width:0.1px">10<tspan font-size="3.96" dy="-3.10">5</tspan></text>
<text transform="translate(398.50,61.76) scale(0.84,1)" x="0" y="0" font-size="6.6" text-anchor="end" fill="#1a1a1a" style="stroke-width:0.1px">10<tspan font-size="3.96" dy="-3.10">4</tspan></text>
<text transform="translate(398.50,73.84) scale(0.84,1)" x="0" y="0" font-size="6.6" text-anchor="end" fill="#1a1a1a" style="stroke-width:0.1px">10<tspan font-size="3.96" dy="-3.10">3</tspan></text>
<text transform="translate(398.50,88.90) scale(0.84,1)" x="0" y="0" font-size="6.6" text-anchor="end" fill="#1a1a1a" style="stroke-width:0.1px">-10<tspan font-size="3.96" dy="-3.10">3</tspan></text>
<text transform="translate(406.10,98.50) scale(0.84,1)" x="0" y="0" font-size="6.6" text-anchor="middle" fill="#1a1a1a" style="stroke-width:0.1px">-10<tspan font-size="3.96" dy="-3.10">3</tspan></text>
<text x="414.7" y="98.5" font-size="6.6" text-anchor="middle" fill="#1a1a1a" transform="translate(414.70,0) scale(0.84,1) translate(-414.70,0)">0</text>
<text transform="translate(423.30,98.50) scale(0.84,1)" x="0" y="0" font-size="6.6" text-anchor="middle" fill="#1a1a1a" style="stroke-width:0.1px">10<tspan font-size="3.96" dy="-3.10">3</tspan></text>
<text transform="translate(434.50,98.50) scale(0.84,1)" x="0" y="0" font-size="6.6" text-anchor="middle" fill="#1a1a1a" style="stroke-width:0.1px">10<tspan font-size="3.96" dy="-3.10">4</tspan></text>
<text transform="translate(444.70,98.50) scale(0.84,1)" x="0" y="0" font-size="6.6" text-anchor="middle" fill="#1a1a1a" style="stroke-width:0.1px">10<tspan font-size="3.96" dy="-3.10">5</tspan></text>
<clipPath id="f470_44"><rect x="470" y="44.2" width="42.40" height="42.40"/></clipPath>
<g clip-path="url(#f470_44)">
<g transform="translate(465,40) scale(0.12092)"><path d="M78,155 C78,142 200,140 210,150 C214,165 200,178 140,178 C92,177 78,168 78,155 Z" fill="none" stroke="#444" stroke-width="8" /></g>
<g transform="translate(465,40) scale(0.12092)"><path d="M95,160 C120,152 180,152 190,158" fill="none" stroke="#888" stroke-width="5" /></g>
<g transform="translate(465,40) scale(0.12092)"><path d="M42,225 C80,205 200,212 240,195 C280,185 312,200 312,225 C312,270 290,295 250,300 L100,305 C60,305 45,290 42,260 Z" fill="#111" stroke="none" stroke-width="0" /></g>
</g>
<line x1="489.6" y1="44.2" x2="489.6" y2="86.6" stroke="#333" stroke-width="0.8" />
<line x1="470" y1="67.8" x2="512.4" y2="67.8" stroke="#333" stroke-width="0.8" />
<rect x="470" y="44.2" width="42.40" height="42.40" fill="none" stroke="#000" stroke-width="1.15"/>
<path d="M467.20,49.71H470M467.20,59.46H470M467.20,71.34H470M467.20,78.97H470M467.20,86.60H470M468.00,67.76H470M468.00,65.67H470M468.00,64.19H470M468.00,63.04H470M468.00,62.10H470M468.00,61.30H470M468.00,60.61H470M468.00,60.01H470M468.00,56.53H470M468.00,54.81H470M468.00,53.59H470M468.00,52.65H470M468.00,51.88H470M468.00,51.22H470M468.00,50.66H470M468.00,50.16H470M468.00,46.78H470M468.00,45.06H470M468.00,73.03H470M468.00,74.73H470M468.00,76.42H470M468.00,80.66H470M468.00,82.36H470M468.00,84.06H470M470.00,86.6V89.60M478.48,86.6V89.60M487.38,86.6V89.60M496.71,86.6V89.60M507.31,86.6V89.60M490.19,86.6V89.00M491.83,86.6V89.00M493.00,86.6V89.00M493.90,86.6V89.00M494.64,86.6V89.00M495.27,86.6V89.00M495.81,86.6V89.00M496.29,86.6V89.00M499.90,86.6V89.00M501.77,86.6V89.00M503.09,86.6V89.00M504.12,86.6V89.00M504.96,86.6V89.00M505.67,86.6V89.00M506.28,86.6V89.00M506.83,86.6V89.00M510.50,86.6V89.00M512.37,86.6V89.00M471.70,86.6V89.00M473.39,86.6V89.00M475.09,86.6V89.00M476.78,86.6V89.00M480.60,86.6V89.00M482.30,86.6V89.00M483.99,86.6V89.00M485.69,86.6V89.00" stroke="#000" stroke-width="1.05" fill="none"/>
<text x="472.4" y="51.2" font-size="5.6" fill="#1a1a1a"  style="stroke-width:0.05px">6.0</text>
<text x="509.0" y="84.19999999999999" font-size="5.6" text-anchor="end" fill="#1a1a1a"  style="stroke-width:0.05px">52.1</text>
<text transform="translate(463.10,52.09) scale(0.84,1)" x="0" y="0" font-size="6.6" text-anchor="end" fill="#1a1a1a" style="stroke-width:0.1px">10<tspan font-size="3.96" dy="-3.10">5</tspan></text>
<text transform="translate(463.10,61.76) scale(0.84,1)" x="0" y="0" font-size="6.6" text-anchor="end" fill="#1a1a1a" style="stroke-width:0.1px">10<tspan font-size="3.96" dy="-3.10">4</tspan></text>
<text transform="translate(463.10,73.84) scale(0.84,1)" x="0" y="0" font-size="6.6" text-anchor="end" fill="#1a1a1a" style="stroke-width:0.1px">10<tspan font-size="3.96" dy="-3.10">3</tspan></text>
<text transform="translate(463.10,88.90) scale(0.84,1)" x="0" y="0" font-size="6.6" text-anchor="end" fill="#1a1a1a" style="stroke-width:0.1px">-10<tspan font-size="3.96" dy="-3.10">3</tspan></text>
<text transform="translate(470.68,98.50) scale(0.84,1)" x="0" y="0" font-size="6.6" text-anchor="middle" fill="#1a1a1a" style="stroke-width:0.1px">-10<tspan font-size="3.96" dy="-3.10">3</tspan></text>
<text x="479.0440366972477" y="98.5" font-size="6.6" text-anchor="middle" fill="#1a1a1a" transform="translate(479.04,0) scale(0.84,1) translate(-479.04,0)">0</text>
<text transform="translate(487.41,98.50) scale(0.84,1)" x="0" y="0" font-size="6.6" text-anchor="middle" fill="#1a1a1a" style="stroke-width:0.1px">10<tspan font-size="3.96" dy="-3.10">3</tspan></text>
<text transform="translate(498.30,98.50) scale(0.84,1)" x="0" y="0" font-size="6.6" text-anchor="middle" fill="#1a1a1a" style="stroke-width:0.1px">10<tspan font-size="3.96" dy="-3.10">4</tspan></text>
<text transform="translate(508.22,98.50) scale(0.84,1)" x="0" y="0" font-size="6.6" text-anchor="middle" fill="#1a1a1a" style="stroke-width:0.1px">10<tspan font-size="3.96" dy="-3.10">5</tspan></text>
<clipPath id="f405_103"><rect x="405.4" y="103.8" width="43.40" height="42.40"/></clipPath>
<g clip-path="url(#f405_103)">
<g transform="translate(400,99) scale(0.12092)"><path d="M220,150 C260,150 300,170 300,200 L220,200 Z" fill="#e0e0e0" stroke="none" stroke-width="0" /></g>
<g transform="translate(400,99) scale(0.12092)"><path d="M50,150 C80,138 180,138 218,146 C238,153 240,180 218,190 C180,200 100,200 50,202 Z" fill="#111" stroke="none" stroke-width="0" /></g>
<g transform="translate(400,99) scale(0.12092)"><path d="M50,215 C100,210 200,210 240,200 C280,195 305,210 305,235 C305,275 280,295 230,295 L80,295 C55,295 50,280 50,260 Z" fill="#111" stroke="none" stroke-width="0" /></g>
</g>
<line x1="424.8" y1="103.8" x2="424.8" y2="146.2" stroke="#333" stroke-width="0.8" />
<line x1="405.4" y1="126.8" x2="448.8" y2="126.8" stroke="#333" stroke-width="0.8" />
<rect x="405.4" y="103.8" width="43.40" height="42.40" fill="none" stroke="#000" stroke-width="1.15"/>
<path d="M402.60,109.31H405.4M402.60,119.06H405.4M402.60,130.94H405.4M402.60,138.57H405.4M402.60,146.20H405.4M403.40,127.36H405.4M403.40,125.27H405.4M403.40,123.79H405.4M403.40,122.64H405.4M403.40,121.70H405.4M403.40,120.90H405.4M403.40,120.21H405.4M403.40,119.61H405.4M403.40,116.13H405.4M403.40,114.41H405.4M403.40,113.19H405.4M403.40,112.25H405.4M403.40,111.48H405.4M403.40,110.82H405.4M403.40,110.26H405.4M403.40,109.76H405.4M403.40,106.38H405.4M403.40,104.66H405.4M403.40,132.63H405.4M403.40,134.33H405.4M403.40,136.02H405.4M403.40,140.26H405.4M403.40,141.96H405.4M403.40,143.66H405.4M405.40,146.2V149.20M414.08,146.2V149.20M423.19,146.2V149.20M432.74,146.2V149.20M443.59,146.2V149.20M426.07,146.2V148.60M427.75,146.2V148.60M428.94,146.2V148.60M429.87,146.2V148.60M430.62,146.2V148.60M431.26,146.2V148.60M431.82,146.2V148.60M432.31,146.2V148.60M436.01,146.2V148.60M437.92,146.2V148.60M439.27,146.2V148.60M440.33,146.2V148.60M441.18,146.2V148.60M441.91,146.2V148.60M442.54,146.2V148.60M443.10,146.2V148.60M446.86,146.2V148.60M448.77,146.2V148.60M407.14,146.2V148.60M408.87,146.2V148.60M410.61,146.2V148.60M412.34,146.2V148.60M416.25,146.2V148.60M417.99,146.2V148.60M419.72,146.2V148.60M421.46,146.2V148.60" stroke="#000" stroke-width="1.05" fill="none"/>
<text x="407.79999999999995" y="110.8" font-size="5.6" fill="#1a1a1a"  style="stroke-width:0.05px">32.0</text>
<text x="445.40000000000003" y="143.79999999999998" font-size="5.6" text-anchor="end" fill="#1a1a1a"  style="stroke-width:0.05px">35.8</text>
<text transform="translate(398.50,111.69) scale(0.84,1)" x="0" y="0" font-size="6.6" text-anchor="end" fill="#1a1a1a" style="stroke-width:0.1px">10<tspan font-size="3.96" dy="-3.10">5</tspan></text>
<text transform="translate(398.50,121.36) scale(0.84,1)" x="0" y="0" font-size="6.6" text-anchor="end" fill="#1a1a1a" style="stroke-width:0.1px">10<tspan font-size="3.96" dy="-3.10">4</tspan></text>
<text transform="translate(398.50,133.44) scale(0.84,1)" x="0" y="0" font-size="6.6" text-anchor="end" fill="#1a1a1a" style="stroke-width:0.1px">10<tspan font-size="3.96" dy="-3.10">3</tspan></text>
<text transform="translate(398.50,148.50) scale(0.84,1)" x="0" y="0" font-size="6.6" text-anchor="end" fill="#1a1a1a" style="stroke-width:0.1px">-10<tspan font-size="3.96" dy="-3.10">3</tspan></text>
<text transform="translate(406.10,158.10) scale(0.84,1)" x="0" y="0" font-size="6.6" text-anchor="middle" fill="#1a1a1a" style="stroke-width:0.1px">-10<tspan font-size="3.96" dy="-3.10">3</tspan></text>
<text x="414.65733944954127" y="158.1" font-size="6.6" text-anchor="middle" fill="#1a1a1a" transform="translate(414.66,0) scale(0.84,1) translate(-414.66,0)">0</text>
<text transform="translate(423.22,158.10) scale(0.84,1)" x="0" y="0" font-size="6.6" text-anchor="middle" fill="#1a1a1a" style="stroke-width:0.1px">10<tspan font-size="3.96" dy="-3.10">3</tspan></text>
<text transform="translate(434.37,158.10) scale(0.84,1)" x="0" y="0" font-size="6.6" text-anchor="middle" fill="#1a1a1a" style="stroke-width:0.1px">10<tspan font-size="3.96" dy="-3.10">4</tspan></text>
<text transform="translate(444.52,158.10) scale(0.84,1)" x="0" y="0" font-size="6.6" text-anchor="middle" fill="#1a1a1a" style="stroke-width:0.1px">10<tspan font-size="3.96" dy="-3.10">5</tspan></text>
<clipPath id="f470_104"><rect x="470" y="104.4" width="42.40" height="41.80"/></clipPath>
<g clip-path="url(#f470_104)">
<g transform="translate(465,99) scale(0.12092)"><path d="M75,205 C75,170 100,155 160,155 C215,155 232,175 228,205 Z" fill="#efefef" stroke="none" stroke-width="0" /></g>
<g transform="translate(465,99) scale(0.12092)"><path d="M90,190 C120,180 160,178 200,185 M100,170 C130,165 170,165 190,170" fill="none" stroke="#d8d8d8" stroke-width="5" /></g>
<g transform="translate(465,99) scale(0.12092)"><path d="M45,232 C100,225 200,222 250,202 C290,187 322,190 322,212 C322,250 290,290 240,300 C180,300 120,290 60,270 L45,260 Z" fill="#333" stroke="none" stroke-width="0" /></g>
<g transform="translate(465,99) scale(0.12092)"><path d="M150,225 C200,218 240,205 265,195 C300,185 322,195 322,215 C322,250 290,290 240,300 C200,300 170,295 150,290 Z" fill="#0a0a0a" stroke="none" stroke-width="0" /></g>
<g transform="translate(465,99) scale(0.12092)"><path d="M55,250 C90,245 130,250 160,255" fill="none" stroke="#bbb" stroke-width="7" /></g>
</g>
<line x1="489.2" y1="104.4" x2="489.2" y2="146.2" stroke="#333" stroke-width="0.8" />
<line x1="470" y1="127.6" x2="512.4" y2="127.6" stroke="#333" stroke-width="0.8" />
<rect x="470" y="104.4" width="42.40" height="41.80" fill="none" stroke="#000" stroke-width="1.15"/>
<path d="M467.20,109.83H470M467.20,119.45H470M467.20,131.15H470M467.20,138.68H470M467.20,146.20H470M468.00,127.63H470M468.00,125.57H470M468.00,124.11H470M468.00,122.97H470M468.00,122.04H470M468.00,121.26H470M468.00,120.58H470M468.00,119.98H470M468.00,116.55H470M468.00,114.86H470M468.00,113.66H470M468.00,112.73H470M468.00,111.97H470M468.00,111.32H470M468.00,110.77H470M468.00,110.27H470M468.00,106.94H470M468.00,105.25H470M468.00,132.82H470M468.00,134.50H470M468.00,136.17H470M468.00,140.35H470M468.00,142.02H470M468.00,143.69H470M470.00,146.2V149.20M478.48,146.2V149.20M487.38,146.2V149.20M496.71,146.2V149.20M507.31,146.2V149.20M490.19,146.2V148.60M491.83,146.2V148.60M493.00,146.2V148.60M493.90,146.2V148.60M494.64,146.2V148.60M495.27,146.2V148.60M495.81,146.2V148.60M496.29,146.2V148.60M499.90,146.2V148.60M501.77,146.2V148.60M503.09,146.2V148.60M504.12,146.2V148.60M504.96,146.2V148.60M505.67,146.2V148.60M506.28,146.2V148.60M506.83,146.2V148.60M510.50,146.2V148.60M512.37,146.2V148.60M471.70,146.2V148.60M473.39,146.2V148.60M475.09,146.2V148.60M476.78,146.2V148.60M480.60,146.2V148.60M482.30,146.2V148.60M483.99,146.2V148.60M485.69,146.2V148.60" stroke="#000" stroke-width="1.05" fill="none"/>
<text x="472.4" y="111.4" font-size="5.6" fill="#1a1a1a"  style="stroke-width:0.05px">3.0</text>
<text x="509.0" y="143.79999999999998" font-size="5.6" text-anchor="end" fill="#1a1a1a"  style="stroke-width:0.05px">66.1</text>
<text transform="translate(463.10,112.21) scale(0.84,1)" x="0" y="0" font-size="6.6" text-anchor="end" fill="#1a1a1a" style="stroke-width:0.1px">10<tspan font-size="3.96" dy="-3.10">5</tspan></text>
<text transform="translate(463.10,121.75) scale(0.84,1)" x="0" y="0" font-size="6.6" text-anchor="end" fill="#1a1a1a" style="stroke-width:0.1px">10<tspan font-size="3.96" dy="-3.10">4</tspan></text>
<text transform="translate(463.10,133.65) scale(0.84,1)" x="0" y="0" font-size="6.6" text-anchor="end" fill="#1a1a1a" style="stroke-width:0.1px">10<tspan font-size="3.96" dy="-3.10">3</tspan></text>
<text transform="translate(463.10,148.50) scale(0.84,1)" x="0" y="0" font-size="6.6" text-anchor="end" fill="#1a1a1a" style="stroke-width:0.1px">-10<tspan font-size="3.96" dy="-3.10">3</tspan></text>
<text transform="translate(470.68,158.10) scale(0.84,1)" x="0" y="0" font-size="6.6" text-anchor="middle" fill="#1a1a1a" style="stroke-width:0.1px">-10<tspan font-size="3.96" dy="-3.10">3</tspan></text>
<text x="479.0440366972477" y="158.1" font-size="6.6" text-anchor="middle" fill="#1a1a1a" transform="translate(479.04,0) scale(0.84,1) translate(-479.04,0)">0</text>
<text transform="translate(487.41,158.10) scale(0.84,1)" x="0" y="0" font-size="6.6" text-anchor="middle" fill="#1a1a1a" style="stroke-width:0.1px">10<tspan font-size="3.96" dy="-3.10">3</tspan></text>
<text transform="translate(498.30,158.10) scale(0.84,1)" x="0" y="0" font-size="6.6" text-anchor="middle" fill="#1a1a1a" style="stroke-width:0.1px">10<tspan font-size="3.96" dy="-3.10">4</tspan></text>
<text transform="translate(508.22,158.10) scale(0.84,1)" x="0" y="0" font-size="6.6" text-anchor="middle" fill="#1a1a1a" style="stroke-width:0.1px">10<tspan font-size="3.96" dy="-3.10">5</tspan></text>
<line x1="382.7" y1="137.5" x2="382.7" y2="163.2" stroke="#111" stroke-width="1.2" />
<path d="M382.7,133 L380.5,138.0 L384.9,138.0 Z" fill="#111"/>
<line x1="382.7" y1="163.2" x2="417.1" y2="163.2" stroke="#111" stroke-width="1.2" />
<path d="M421.6,163.2 L416.6,161.0 L416.6,165.39999999999998 Z" fill="#111"/>
<text transform="translate(377.3,150.6) rotate(-90)" x="0" y="0" font-size="8.6" text-anchor="middle" textLength="21" lengthAdjust="spacingAndGlyphs" fill="#1a1a1a">Notch1</text>
<text x="391.3" y="174.4" font-size="8.4" textLength="16.6" lengthAdjust="spacingAndGlyphs" fill="#1a1a1a" >CD19</text>
<text x="373.3" y="197.8" font-size="6.3" textLength="25.6" lengthAdjust="spacingAndGlyphs" fill="#1a1a1a"  style="stroke-width:0.05px">KIDMEM</text>
<text x="454.3" y="196.8" font-size="6.3" text-anchor="middle" textLength="9.4" lengthAdjust="spacingAndGlyphs" fill="#1a1a1a"  style="stroke-width:0.05px">CM</text>
<filter id="cb" x="-5%" y="-5%" width="110%" height="110%"><feGaussianBlur stdDeviation="0.45"/></filter>
<clipPath id="c1"><rect x="355.9" y="201.6" width="60.10" height="54.90"/></clipPath>
<rect x="355.9" y="201.6" width="60.10" height="54.90" fill="#a9aba6"/>
<g clip-path="url(#c1)"><g filter="url(#cb)">
<ellipse cx="367.2" cy="209.3" rx="1.44" ry="1.68" fill="#5f625d"/>
<ellipse cx="368.5" cy="209.0" rx="1.36" ry="1.60" fill="#e4e6e0"/>
<ellipse cx="380.6" cy="203.7" rx="1.44" ry="1.68" fill="#5f625d"/>
<ellipse cx="381.9" cy="203.4" rx="1.36" ry="1.60" fill="#e4e6e0"/>
<ellipse cx="384.1" cy="203.7" rx="1.44" ry="1.68" fill="#5f625d"/>
<ellipse cx="385.4" cy="203.4" rx="1.36" ry="1.60" fill="#e4e6e0"/>
<ellipse cx="387.6" cy="207.9" rx="1.44" ry="1.68" fill="#5f625d"/>
<ellipse cx="388.9" cy="207.6" rx="1.36" ry="1.60" fill="#e4e6e0"/>
<ellipse cx="398.1" cy="204.4" rx="1.44" ry="1.68" fill="#5f625d"/>
<ellipse cx="399.4" cy="204.1" rx="1.36" ry="1.60" fill="#e4e6e0"/>
<ellipse cx="411.4" cy="203.7" rx="1.44" ry="1.68" fill="#5f625d"/>
<ellipse cx="412.7" cy="203.4" rx="1.36" ry="1.60" fill="#e4e6e0"/>
<ellipse cx="374.3" cy="215.6" rx="1.44" ry="1.68" fill="#5f625d"/>
<ellipse cx="375.6" cy="215.3" rx="1.36" ry="1.60" fill="#e4e6e0"/>
<ellipse cx="379.2" cy="217.7" rx="1.44" ry="1.68" fill="#5f625d"/>
<ellipse cx="380.5" cy="217.4" rx="1.36" ry="1.60" fill="#e4e6e0"/>
<ellipse cx="371.4" cy="218.4" rx="1.44" ry="1.68" fill="#5f625d"/>
<ellipse cx="372.7" cy="218.1" rx="1.36" ry="1.60" fill="#e4e6e0"/>
<ellipse cx="363.7" cy="219.8" rx="1.44" ry="1.68" fill="#5f625d"/>
<ellipse cx="365.0" cy="219.5" rx="1.36" ry="1.60" fill="#e4e6e0"/>
<ellipse cx="368.6" cy="224.1" rx="1.44" ry="1.68" fill="#5f625d"/>
<ellipse cx="369.9" cy="223.8" rx="1.36" ry="1.60" fill="#e4e6e0"/>
<ellipse cx="374.3" cy="222.7" rx="1.44" ry="1.68" fill="#5f625d"/>
<ellipse cx="375.6" cy="222.4" rx="1.36" ry="1.60" fill="#e4e6e0"/>
<ellipse cx="391.1" cy="217.0" rx="1.44" ry="1.68" fill="#5f625d"/>
<ellipse cx="392.4" cy="216.7" rx="1.36" ry="1.60" fill="#e4e6e0"/>
<ellipse cx="390.4" cy="221.3" rx="1.44" ry="1.68" fill="#5f625d"/>
<ellipse cx="391.7" cy="221.0" rx="1.36" ry="1.60" fill="#e4e6e0"/>
<ellipse cx="399.5" cy="214.9" rx="1.44" ry="1.68" fill="#5f625d"/>
<ellipse cx="400.8" cy="214.6" rx="1.36" ry="1.60" fill="#e4e6e0"/>
<ellipse cx="402.3" cy="216.3" rx="1.44" ry="1.68" fill="#5f625d"/>
<ellipse cx="403.6" cy="216.0" rx="1.36" ry="1.60" fill="#e4e6e0"/>
<ellipse cx="407.2" cy="219.1" rx="1.44" ry="1.68" fill="#5f625d"/>
<ellipse cx="408.5" cy="218.8" rx="1.36" ry="1.60" fill="#e4e6e0"/>
<ellipse cx="386.9" cy="233.9" rx="1.44" ry="1.68" fill="#5f625d"/>
<ellipse cx="388.2" cy="233.6" rx="1.36" ry="1.60" fill="#e4e6e0"/>
<ellipse cx="407.9" cy="230.4" rx="1.44" ry="1.68" fill="#5f625d"/>
<ellipse cx="409.2" cy="230.1" rx="1.36" ry="1.60" fill="#e4e6e0"/>
<ellipse cx="412.1" cy="230.4" rx="1.44" ry="1.68" fill="#5f625d"/>
<ellipse cx="413.4" cy="230.1" rx="1.36" ry="1.60" fill="#e4e6e0"/>
<ellipse cx="356.7" cy="236.0" rx="1.44" ry="1.68" fill="#5f625d"/>
<ellipse cx="358.0" cy="235.7" rx="1.36" ry="1.60" fill="#e4e6e0"/>
<ellipse cx="363.7" cy="240.9" rx="1.44" ry="1.68" fill="#5f625d"/>
<ellipse cx="365.0" cy="240.6" rx="1.36" ry="1.60" fill="#e4e6e0"/>
<ellipse cx="384.1" cy="242.3" rx="1.44" ry="1.68" fill="#5f625d"/>
<ellipse cx="385.4" cy="242.0" rx="1.36" ry="1.60" fill="#e4e6e0"/>
<ellipse cx="387.6" cy="245.1" rx="1.44" ry="1.68" fill="#5f625d"/>
<ellipse cx="388.9" cy="244.8" rx="1.36" ry="1.60" fill="#e4e6e0"/>
<ellipse cx="389.0" cy="240.9" rx="1.44" ry="1.68" fill="#5f625d"/>
<ellipse cx="390.3" cy="240.6" rx="1.36" ry="1.60" fill="#e4e6e0"/>
<ellipse cx="398.1" cy="247.9" rx="1.44" ry="1.68" fill="#5f625d"/>
<ellipse cx="399.4" cy="247.6" rx="1.36" ry="1.60" fill="#e4e6e0"/>
<ellipse cx="406.5" cy="249.3" rx="1.44" ry="1.68" fill="#5f625d"/>
<ellipse cx="407.8" cy="249.0" rx="1.36" ry="1.60" fill="#e4e6e0"/>
<ellipse cx="361.6" cy="250.7" rx="1.44" ry="1.68" fill="#5f625d"/>
<ellipse cx="362.9" cy="250.4" rx="1.36" ry="1.60" fill="#e4e6e0"/>
<ellipse cx="365.8" cy="253.5" rx="1.44" ry="1.68" fill="#5f625d"/>
<ellipse cx="367.1" cy="253.2" rx="1.36" ry="1.60" fill="#e4e6e0"/>
<ellipse cx="358.1" cy="247.9" rx="1.44" ry="1.68" fill="#5f625d"/>
<ellipse cx="359.4" cy="247.6" rx="1.36" ry="1.60" fill="#e4e6e0"/>
</g></g>
<clipPath id="c2"><rect x="422.2" y="201.6" width="64.10" height="54.90"/></clipPath>
<rect x="422.2" y="201.6" width="64.10" height="54.90" fill="#abada8"/>
<g clip-path="url(#c2)"><g filter="url(#cb)">
<circle cx="426.3" cy="207.0" r="1.90" fill="#d3d5cf" stroke="#5e615b" stroke-width="0.8"/>
<circle cx="426.8" cy="206.5" r="0.85" fill="#e8eae4"/>
<circle cx="425.6" cy="211.2" r="1.90" fill="#d3d5cf" stroke="#5e615b" stroke-width="0.8"/>
<circle cx="426.1" cy="210.7" r="0.85" fill="#e8eae4"/>
<circle cx="429.8" cy="213.3" r="1.90" fill="#d3d5cf" stroke="#5e615b" stroke-width="0.8"/>
<circle cx="430.3" cy="212.8" r="0.85" fill="#e8eae4"/>
<circle cx="434.0" cy="217.6" r="1.90" fill="#d3d5cf" stroke="#5e615b" stroke-width="0.8"/>
<circle cx="434.5" cy="217.1" r="0.85" fill="#e8eae4"/>
<circle cx="447.4" cy="206.3" r="1.90" fill="#d3d5cf" stroke="#5e615b" stroke-width="0.8"/>
<circle cx="447.9" cy="205.8" r="0.85" fill="#e8eae4"/>
<circle cx="458.6" cy="203.5" r="1.90" fill="#d3d5cf" stroke="#5e615b" stroke-width="0.8"/>
<circle cx="459.1" cy="203.0" r="0.85" fill="#e8eae4"/>
<circle cx="459.3" cy="208.4" r="1.90" fill="#d3d5cf" stroke="#5e615b" stroke-width="0.8"/>
<circle cx="459.8" cy="207.9" r="0.85" fill="#e8eae4"/>
<circle cx="469.9" cy="209.1" r="1.90" fill="#d3d5cf" stroke="#5e615b" stroke-width="0.8"/>
<circle cx="470.4" cy="208.6" r="0.85" fill="#e8eae4"/>
<circle cx="474.1" cy="209.1" r="1.90" fill="#d3d5cf" stroke="#5e615b" stroke-width="0.8"/>
<circle cx="474.6" cy="208.6" r="0.85" fill="#e8eae4"/>
<circle cx="472.7" cy="213.3" r="1.90" fill="#d3d5cf" stroke="#5e615b" stroke-width="0.8"/>
<circle cx="473.2" cy="212.8" r="0.85" fill="#e8eae4"/>
<circle cx="448.1" cy="216.9" r="1.90" fill="#d3d5cf" stroke="#5e615b" stroke-width="0.8"/>
<circle cx="448.6" cy="216.4" r="0.85" fill="#e8eae4"/>
<circle cx="441.8" cy="221.8" r="1.90" fill="#d3d5cf" stroke="#5e615b" stroke-width="0.8"/>
<circle cx="442.3" cy="221.3" r="0.85" fill="#e8eae4"/>
<circle cx="459.3" cy="222.5" r="1.90" fill="#d3d5cf" stroke="#5e615b" stroke-width="0.8"/>
<circle cx="459.8" cy="222.0" r="0.85" fill="#e8eae4"/>
<circle cx="462.8" cy="224.6" r="1.90" fill="#d3d5cf" stroke="#5e615b" stroke-width="0.8"/>
<circle cx="463.3" cy="224.1" r="0.85" fill="#e8eae4"/>
<circle cx="468.5" cy="226.0" r="1.90" fill="#d3d5cf" stroke="#5e615b" stroke-width="0.8"/>
<circle cx="469.0" cy="225.5" r="0.85" fill="#e8eae4"/>
<circle cx="464.9" cy="230.9" r="1.90" fill="#d3d5cf" stroke="#5e615b" stroke-width="0.8"/>
<circle cx="465.4" cy="230.4" r="0.85" fill="#e8eae4"/>
<circle cx="434.0" cy="233.0" r="1.90" fill="#d3d5cf" stroke="#5e615b" stroke-width="0.8"/>
<circle cx="434.5" cy="232.5" r="0.85" fill="#e8eae4"/>
<circle cx="437.6" cy="233.0" r="1.90" fill="#d3d5cf" stroke="#5e615b" stroke-width="0.8"/>
<circle cx="438.1" cy="232.5" r="0.85" fill="#e8eae4"/>
<circle cx="441.1" cy="234.4" r="1.90" fill="#d3d5cf" stroke="#5e615b" stroke-width="0.8"/>
<circle cx="441.6" cy="233.9" r="0.85" fill="#e8eae4"/>
<circle cx="443.2" cy="236.5" r="1.90" fill="#d3d5cf" stroke="#5e615b" stroke-width="0.8"/>
<circle cx="443.7" cy="236.0" r="0.85" fill="#e8eae4"/>
<circle cx="453.0" cy="235.1" r="1.90" fill="#d3d5cf" stroke="#5e615b" stroke-width="0.8"/>
<circle cx="453.5" cy="234.6" r="0.85" fill="#e8eae4"/>
<circle cx="453.7" cy="241.4" r="1.90" fill="#d3d5cf" stroke="#5e615b" stroke-width="0.8"/>
<circle cx="454.2" cy="240.9" r="0.85" fill="#e8eae4"/>
<circle cx="453.0" cy="245.6" r="1.90" fill="#d3d5cf" stroke="#5e615b" stroke-width="0.8"/>
<circle cx="453.5" cy="245.1" r="0.85" fill="#e8eae4"/>
<circle cx="452.3" cy="249.9" r="1.90" fill="#d3d5cf" stroke="#5e615b" stroke-width="0.8"/>
<circle cx="452.8" cy="249.4" r="0.85" fill="#e8eae4"/>
<circle cx="475.5" cy="235.8" r="1.90" fill="#d3d5cf" stroke="#5e615b" stroke-width="0.8"/>
<circle cx="476.0" cy="235.3" r="0.85" fill="#e8eae4"/>
<circle cx="471.3" cy="238.6" r="1.90" fill="#d3d5cf" stroke="#5e615b" stroke-width="0.8"/>
<circle cx="471.8" cy="238.1" r="0.85" fill="#e8eae4"/>
<circle cx="482.5" cy="242.1" r="1.90" fill="#d3d5cf" stroke="#5e615b" stroke-width="0.8"/>
<circle cx="483.0" cy="241.6" r="0.85" fill="#e8eae4"/>
<circle cx="481.8" cy="247.8" r="1.90" fill="#d3d5cf" stroke="#5e615b" stroke-width="0.8"/>
<circle cx="482.3" cy="247.3" r="0.85" fill="#e8eae4"/>
<circle cx="476.2" cy="253.4" r="1.90" fill="#d3d5cf" stroke="#5e615b" stroke-width="0.8"/>
<circle cx="476.7" cy="252.9" r="0.85" fill="#e8eae4"/>
<circle cx="483.2" cy="252.0" r="1.90" fill="#d3d5cf" stroke="#5e615b" stroke-width="0.8"/>
<circle cx="483.7" cy="251.5" r="0.85" fill="#e8eae4"/>
</g></g>
<text x="60.3" y="293.3" font-size="8.2" textLength="28.9" lengthAdjust="spacingAndGlyphs" fill="#1a1a1a" >Cells/well</text>
<text x="36.4" y="304" font-size="6.3" text-anchor="middle" fill="#1a1a1a"  style="stroke-width:0.05px">0</text>
<text x="55.6" y="304" font-size="6.3" text-anchor="middle" fill="#1a1a1a"  style="stroke-width:0.05px">2</text>
<text x="75" y="304" font-size="6.3" text-anchor="middle" fill="#1a1a1a"  style="stroke-width:0.05px">4</text>
<text x="94" y="304" font-size="6.3" text-anchor="middle" fill="#1a1a1a"  style="stroke-width:0.05px">6</text>
<text x="113" y="304" font-size="6.3" text-anchor="middle" fill="#1a1a1a"  style="stroke-width:0.05px">8</text>
<line x1="35.8" y1="307.9" x2="113.6" y2="307.9" stroke="#000" stroke-width="1.2" />
<line x1="35.8" y1="307.3" x2="35.8" y2="386" stroke="#000" stroke-width="1.2" />
<line x1="35.2" y1="385.4" x2="113.6" y2="385.4" stroke="#000" stroke-width="1.2" />
<text x="29.9" y="310.5" font-size="6.3" text-anchor="end" fill="#1a1a1a"  style="stroke-width:0.05px">100</text>
<text x="29.9" y="348.59999999999997" font-size="6.3" text-anchor="end" fill="#1a1a1a"  style="stroke-width:0.05px">10</text>
<text x="29.9" y="387.0" font-size="6.3" text-anchor="end" fill="#1a1a1a"  style="stroke-width:0.05px">1</text>
<line x1="34.2" y1="335.05013916780393" x2="35.8" y2="335.05013916780393" stroke="#000" stroke-width="0.8" />
<line x1="34.2" y1="328.23540744234907" x2="35.8" y2="328.23540744234907" stroke="#000" stroke-width="0.8" />
<line x1="34.2" y1="323.4002783356078" x2="35.8" y2="323.4002783356078" stroke="#000" stroke-width="0.8" />
<line x1="34.2" y1="319.64986083219605" x2="35.8" y2="319.64986083219605" stroke="#000" stroke-width="0.8" />
<line x1="34.2" y1="316.58554661015296" x2="35.8" y2="316.58554661015296" stroke="#000" stroke-width="0.8" />
<line x1="34.2" y1="313.99470585144826" x2="35.8" y2="313.99470585144826" stroke="#000" stroke-width="0.8" />
<line x1="34.2" y1="311.75041750341177" x2="35.8" y2="311.75041750341177" stroke="#000" stroke-width="0.8" />
<line x1="34.2" y1="309.7708148846981" x2="35.8" y2="309.7708148846981" stroke="#000" stroke-width="0.8" />
<line x1="34.2" y1="373.7501391678039" x2="35.8" y2="373.7501391678039" stroke="#000" stroke-width="0.8" />
<line x1="34.2" y1="366.93540744234906" x2="35.8" y2="366.93540744234906" stroke="#000" stroke-width="0.8" />
<line x1="34.2" y1="362.1002783356078" x2="35.8" y2="362.1002783356078" stroke="#000" stroke-width="0.8" />
<line x1="34.2" y1="358.34986083219604" x2="35.8" y2="358.34986083219604" stroke="#000" stroke-width="0.8" />
<line x1="34.2" y1="355.28554661015295" x2="35.8" y2="355.28554661015295" stroke="#000" stroke-width="0.8" />
<line x1="34.2" y1="352.69470585144825" x2="35.8" y2="352.69470585144825" stroke="#000" stroke-width="0.8" />
<line x1="34.2" y1="350.45041750341176" x2="35.8" y2="350.45041750341176" stroke="#000" stroke-width="0.8" />
<line x1="34.2" y1="348.4708148846981" x2="35.8" y2="348.4708148846981" stroke="#000" stroke-width="0.8" />
<line x1="33.4" y1="308.0" x2="35.8" y2="308.0" stroke="#000" stroke-width="0.9" />
<line x1="33.4" y1="346.7" x2="35.8" y2="346.7" stroke="#000" stroke-width="0.9" />
<line x1="33.4" y1="385.4" x2="35.8" y2="385.4" stroke="#000" stroke-width="0.9" />
<line x1="36" y1="325" x2="114" y2="325" stroke="#000" stroke-width="1.1" stroke-dasharray="1.6,1.2"/>
<text x="92.6" y="332.4" font-size="5.0" textLength="21" lengthAdjust="spacingAndGlyphs" fill="#1a1a1a"  style="stroke-width:0.05px">(~1 in 2)</text>
<line x1="36.4" y1="308" x2="113.2" y2="373.8" stroke="#9e1a3c" stroke-width="1.3" />
<circle cx="36.4" cy="308" r="1.8" fill="#9e1a3c"/>
<circle cx="43.5" cy="314.8" r="1.8" fill="#9e1a3c"/>
<circle cx="57.7" cy="331.2" r="1.8" fill="#9e1a3c"/>
<circle cx="100.5" cy="361.6" r="1.8" fill="#9e1a3c"/>
<text transform="translate(14.3,348.5) rotate(-90)" x="0" y="0" font-size="7.4" text-anchor="middle" textLength="55.6" lengthAdjust="spacingAndGlyphs" fill="#1a1a1a">% negative wells</text>
<clipPath id="h145_286"><rect x="145.5" y="286" width="36.80" height="35.70"/></clipPath>
<g clip-path="url(#h145_286)">
<g transform="translate(143,283) scale(0.10173)"><path d="M95.0,380.0 C96.6,351.2 102.6,252.8 105.0,200.0 C107.4,147.2 107.6,73.2 110.0,50.0 C112.4,26.8 116.8,53.4 120.0,55.0 C123.2,56.6 126.8,36.8 130.0,60.0 C133.2,83.2 136.8,161.6 140.0,200.0 C143.2,238.4 144.4,276.0 150.0,300.0 C155.6,324.0 167.0,342.8 175.0,350.0 C183.0,357.2 189.6,344.7 200.0,345.0 C210.4,345.3 227.2,346.4 240.0,352.0 C252.8,357.6 273.6,375.5 280.0,380.0 Z" fill="#ecadbd" stroke="#95163e" stroke-width="9" fill-opacity="0.9"/></g>
<g transform="translate(143,283) scale(0.10173)"><path d="M150.0,372.0 C154.8,369.3 170.4,359.6 180.0,355.0 C189.6,350.4 200.4,343.0 210.0,343.0 C219.6,343.0 230.4,350.0 240.0,355.0 C249.6,360.0 265.2,371.0 270.0,374.0" fill="none" stroke="#b8486a" stroke-width="7" stroke-linejoin="round"/></g>
<g transform="translate(143,283) scale(0.10173)"><path d="M100.0,380.0 C101.3,328.8 105.1,112.0 108.0,60.0 C110.9,8.0 114.5,45.4 118.0,55.0 C121.5,64.6 125.7,77.6 130.0,120.0 C134.3,162.4 139.4,289.6 145.0,320.0 C150.6,350.4 157.8,321.2 165.0,310.0 C172.2,298.8 182.8,274.0 190.0,250.0 C197.2,226.0 203.6,185.6 210.0,160.0 C216.4,134.4 225.2,98.0 230.0,90.0 C234.8,82.0 236.0,87.6 240.0,110.0 C244.0,132.4 250.2,193.2 255.0,230.0 C259.8,266.8 264.4,316.0 270.0,340.0 C275.6,364.0 286.8,373.6 290.0,380.0" fill="none" stroke="#95163e" stroke-width="11" stroke-linejoin="round"/></g>
</g>
<rect x="145.5" y="286" width="36.80" height="35.70" fill="none" stroke="#000" stroke-width="1.15"/>
<path d="M143.60,290.46H145.5M143.60,294.93H145.5M143.60,299.39H145.5M143.60,303.85H145.5M143.60,308.31H145.5M143.60,312.77H145.5M143.60,317.24H145.5M147.71,321.7V324.00M149.18,321.7V324.00M150.65,321.7V324.00M152.12,321.7V324.00M155.80,321.7V324.00M157.28,321.7V324.00M158.75,321.7V324.00M160.22,321.7V324.00M162.80,321.7V324.00M164.27,321.7V324.00M165.74,321.7V324.00M167.58,321.7V324.00M170.16,321.7V324.00M171.63,321.7V324.00M173.10,321.7V324.00M174.94,321.7V324.00M177.52,321.7V324.00M178.99,321.7V324.00M180.46,321.7V324.00" stroke="#000" stroke-width="1.0" fill="none"/>
<clipPath id="h188_286"><rect x="188.4" y="286" width="36.60" height="35.70"/></clipPath>
<g clip-path="url(#h188_286)">
<g transform="translate(185,283) scale(0.10173)"><path d="M40.0,380.0 C44.8,367.2 61.2,332.0 70.0,300.0 C78.8,268.0 88.6,218.4 95.0,180.0 C101.4,141.6 106.3,80.0 110.0,60.0 C113.7,40.0 114.8,47.0 118.0,55.0 C121.2,63.0 124.9,102.8 130.0,110.0 C135.1,117.2 145.2,102.4 150.0,100.0 C154.8,97.6 156.0,82.2 160.0,95.0 C164.0,107.8 168.6,144.0 175.0,180.0 C181.4,216.0 192.8,289.6 200.0,320.0 C207.2,350.4 212.8,360.4 220.0,370.0 C227.2,379.6 241.0,378.4 245.0,380.0 Z" fill="#ecadbd" stroke="#95163e" stroke-width="9" fill-opacity="0.9"/></g>
<g transform="translate(185,283) scale(0.10173)"><path d="M40.0,380.0 C45.6,364.0 64.6,321.6 75.0,280.0 C85.4,238.4 96.2,128.0 105.0,120.0 C113.8,112.0 123.6,196.4 130.0,230.0 C136.4,263.6 141.0,306.0 145.0,330.0 C149.0,354.0 153.4,372.0 155.0,380.0" fill="none" stroke="#b8486a" stroke-width="7" stroke-linejoin="round"/></g>
<g transform="translate(185,283) scale(0.10173)"><path d="M55.0,380.0 C59.8,360.8 74.6,304.8 85.0,260.0 C95.4,215.2 108.0,127.2 120.0,100.0 C132.0,72.8 149.6,74.0 160.0,90.0 C170.4,106.0 177.0,163.2 185.0,200.0 C193.0,236.8 202.0,291.2 210.0,320.0 C218.0,348.8 231.0,370.4 235.0,380.0" fill="none" stroke="#95163e" stroke-width="11" stroke-linejoin="round"/></g>
<g transform="translate(185,283) scale(0.10173)"><path d="M45.0,380.0 C52.2,351.2 78.8,251.2 90.0,200.0 C101.2,148.8 107.8,71.2 115.0,60.0 C122.2,48.8 127.8,123.6 135.0,130.0 C142.2,136.4 151.2,80.8 160.0,100.0 C168.8,119.2 181.2,208.4 190.0,250.0 C198.8,291.6 207.8,339.2 215.0,360.0 C222.2,380.8 231.8,376.8 235.0,380.0" fill="none" stroke="#95163e" stroke-width="11" stroke-linejoin="round"/></g>
</g>
<rect x="188.4" y="286" width="36.60" height="35.70" fill="none" stroke="#000" stroke-width="1.15"/>
<path d="M186.50,290.46H188.4M186.50,294.93H188.4M186.50,299.39H188.4M186.50,303.85H188.4M186.50,308.31H188.4M186.50,312.77H188.4M186.50,317.24H188.4M190.60,321.7V324.00M192.06,321.7V324.00M193.52,321.7V324.00M194.99,321.7V324.00M198.65,321.7V324.00M200.11,321.7V324.00M201.58,321.7V324.00M203.04,321.7V324.00M205.60,321.7V324.00M207.07,321.7V324.00M208.53,321.7V324.00M210.36,321.7V324.00M212.92,321.7V324.00M214.39,321.7V324.00M215.85,321.7V324.00M217.68,321.7V324.00M220.24,321.7V324.00M221.71,321.7V324.00M223.17,321.7V324.00" stroke="#000" stroke-width="1.0" fill="none"/>
<clipPath id="h231_286"><rect x="231.1" y="286" width="36.30" height="35.70"/></clipPath>
<g clip-path="url(#h231_286)">
<g transform="translate(227,283) scale(0.10173)"><path d="M120.0,380.0 C124.8,359.2 140.4,286.8 150.0,250.0 C159.6,213.2 170.4,176.4 180.0,150.0 C189.6,123.6 202.8,93.0 210.0,85.0 C217.2,77.0 220.2,84.8 225.0,100.0 C229.8,115.2 234.7,148.0 240.0,180.0 C245.3,212.0 252.4,268.0 258.0,300.0 C263.6,332.0 272.3,367.2 275.0,380.0 Z" fill="#ecadbd" stroke="#95163e" stroke-width="9" fill-opacity="0.9"/></g>
<g transform="translate(227,283) scale(0.10173)"><path d="M109,380 L113,50 L118,50 L122,380 Z" fill="#b0304f" stroke="#95163e" stroke-width="8" /></g>
<g transform="translate(227,283) scale(0.10173)"><path d="M130.0,380.0 C136.4,360.8 156.4,303.2 170.0,260.0 C183.6,216.8 204.6,119.6 215.0,110.0 C225.4,100.4 229.4,169.6 235.0,200.0 C240.6,230.4 245.7,271.2 250.0,300.0 C254.3,328.8 260.1,367.2 262.0,380.0" fill="none" stroke="#b8486a" stroke-width="7" stroke-linejoin="round"/></g>
<g transform="translate(227,283) scale(0.10173)"><path d="M115.0,370.0 C120.6,347.6 139.6,266.8 150.0,230.0 C160.4,193.2 170.4,164.0 180.0,140.0 C189.6,116.0 202.0,86.4 210.0,80.0 C218.0,73.6 224.4,80.8 230.0,100.0 C235.6,119.2 239.9,164.8 245.0,200.0 C250.1,235.2 257.7,291.2 262.0,320.0 C266.3,348.8 270.4,370.4 272.0,380.0" fill="none" stroke="#95163e" stroke-width="11" stroke-linejoin="round"/></g>
</g>
<rect x="231.1" y="286" width="36.30" height="35.70" fill="none" stroke="#000" stroke-width="1.15"/>
<path d="M229.20,290.46H231.1M229.20,294.93H231.1M229.20,299.39H231.1M229.20,303.85H231.1M229.20,308.31H231.1M229.20,312.77H231.1M229.20,317.24H231.1M233.28,321.7V324.00M234.73,321.7V324.00M236.18,321.7V324.00M237.63,321.7V324.00M241.26,321.7V324.00M242.72,321.7V324.00M244.17,321.7V324.00M245.62,321.7V324.00M248.16,321.7V324.00M249.61,321.7V324.00M251.06,321.7V324.00M252.88,321.7V324.00M255.42,321.7V324.00M256.87,321.7V324.00M258.32,321.7V324.00M260.14,321.7V324.00M262.68,321.7V324.00M264.13,321.7V324.00M265.58,321.7V324.00" stroke="#000" stroke-width="1.0" fill="none"/>
<clipPath id="h273_286"><rect x="273.3" y="286" width="37.00" height="35.70"/></clipPath>
<g clip-path="url(#h273_286)">
<g transform="translate(270,283) scale(0.10173)"><path d="M40.0,380.0 C44.8,364.0 61.2,316.8 70.0,280.0 C78.8,243.2 88.6,185.2 95.0,150.0 C101.4,114.8 106.0,71.2 110.0,60.0 C114.0,48.8 116.8,67.2 120.0,80.0 C123.2,92.8 125.2,117.6 130.0,140.0 C134.8,162.4 142.8,191.2 150.0,220.0 C157.2,248.8 164.6,296.0 175.0,320.0 C185.4,344.0 204.6,360.4 215.0,370.0 C225.4,379.6 236.0,378.4 240.0,380.0 Z" fill="#ecadbd" stroke="#95163e" stroke-width="9" fill-opacity="0.9"/></g>
<g transform="translate(270,283) scale(0.10173)"><path d="M60.0,380.0 C65.6,359.2 83.8,286.8 95.0,250.0 C106.2,213.2 118.8,148.4 130.0,150.0 C141.2,151.6 153.8,223.2 165.0,260.0 C176.2,296.8 194.4,360.8 200.0,380.0" fill="none" stroke="#b8486a" stroke-width="7" stroke-linejoin="round"/></g>
<g transform="translate(270,283) scale(0.10173)"><path d="M50.0,380.0 C54.8,360.8 69.6,303.2 80.0,260.0 C90.4,216.8 103.8,119.6 115.0,110.0 C126.2,100.4 139.6,172.8 150.0,200.0 C160.4,227.2 171.2,257.6 180.0,280.0 C188.8,302.4 197.0,324.0 205.0,340.0 C213.0,356.0 226.0,373.6 230.0,380.0" fill="none" stroke="#95163e" stroke-width="11" stroke-linejoin="round"/></g>
<g transform="translate(270,283) scale(0.10173)"><path d="M45.0,380.0 C51.4,356.0 74.3,279.6 85.0,230.0 C95.7,180.4 103.2,79.6 112.0,70.0 C120.8,60.4 130.7,138.0 140.0,170.0 C149.3,202.0 160.4,241.2 170.0,270.0 C179.6,298.8 192.0,332.4 200.0,350.0 C208.0,367.6 216.8,375.2 220.0,380.0" fill="none" stroke="#95163e" stroke-width="11" stroke-linejoin="round"/></g>
<g transform="translate(270,283) scale(0.10173)"><path d="M75.0,380.0 C81.4,354.4 103.8,258.4 115.0,220.0 C126.2,181.6 134.6,135.2 145.0,140.0 C155.4,144.8 167.2,211.6 180.0,250.0 C192.8,288.4 217.8,359.2 225.0,380.0" fill="none" stroke="#b8486a" stroke-width="7" stroke-linejoin="round"/></g>
</g>
<rect x="273.3" y="286" width="37.00" height="35.70" fill="none" stroke="#000" stroke-width="1.15"/>
<path d="M271.40,290.46H273.3M271.40,294.93H273.3M271.40,299.39H273.3M271.40,303.85H273.3M271.40,308.31H273.3M271.40,312.77H273.3M271.40,317.24H273.3M275.52,321.7V324.00M277.00,321.7V324.00M278.48,321.7V324.00M279.96,321.7V324.00M283.66,321.7V324.00M285.14,321.7V324.00M286.62,321.7V324.00M288.10,321.7V324.00M290.69,321.7V324.00M292.17,321.7V324.00M293.65,321.7V324.00M295.50,321.7V324.00M298.09,321.7V324.00M299.57,321.7V324.00M301.05,321.7V324.00M302.90,321.7V324.00M305.49,321.7V324.00M306.97,321.7V324.00M308.45,321.7V324.00" stroke="#000" stroke-width="1.0" fill="none"/>
<clipPath id="h145_341"><rect x="145.5" y="341.3" width="36.80" height="35.60"/></clipPath>
<g clip-path="url(#h145_341)">
<g transform="translate(143,338) scale(0.10173)"><path d="M85.0,380.0 C86.6,351.2 92.6,249.6 95.0,200.0 C97.4,150.4 97.6,81.2 100.0,70.0 C102.4,58.8 106.0,126.8 110.0,130.0 C114.0,133.2 120.2,90.0 125.0,90.0 C129.8,90.0 134.4,115.6 140.0,130.0 C145.6,144.4 153.6,160.8 160.0,180.0 C166.4,199.2 172.8,230.8 180.0,250.0 C187.2,269.2 197.0,287.2 205.0,300.0 C213.0,312.8 219.6,317.2 230.0,330.0 C240.4,342.8 263.6,372.0 270.0,380.0 Z" fill="#ecadbd" stroke="#95163e" stroke-width="9" fill-opacity="0.9"/></g>
<g transform="translate(143,338) scale(0.10173)"><path d="M90.0,380.0 C92.4,359.2 101.0,278.8 105.0,250.0 C109.0,221.2 107.8,212.8 115.0,200.0 C122.2,187.2 140.4,179.6 150.0,170.0 C159.6,160.4 169.4,149.6 175.0,140.0 C180.6,130.4 181.0,110.0 185.0,110.0 C189.0,110.0 195.2,133.6 200.0,140.0 C204.8,146.4 207.0,135.6 215.0,150.0 C223.0,164.4 238.0,202.8 250.0,230.0 C262.0,257.2 277.2,296.0 290.0,320.0 C302.8,344.0 323.6,370.4 330.0,380.0" fill="none" stroke="#95163e" stroke-width="11" stroke-linejoin="round"/></g>
</g>
<rect x="145.5" y="341.3" width="36.80" height="35.60" fill="none" stroke="#000" stroke-width="1.15"/>
<path d="M143.60,345.75H145.5M143.60,350.20H145.5M143.60,354.65H145.5M143.60,359.10H145.5M143.60,363.55H145.5M143.60,368.00H145.5M143.60,372.45H145.5M147.71,376.9V379.20M149.18,376.9V379.20M150.65,376.9V379.20M152.12,376.9V379.20M155.80,376.9V379.20M157.28,376.9V379.20M158.75,376.9V379.20M160.22,376.9V379.20M162.80,376.9V379.20M164.27,376.9V379.20M165.74,376.9V379.20M167.58,376.9V379.20M170.16,376.9V379.20M171.63,376.9V379.20M173.10,376.9V379.20M174.94,376.9V379.20M177.52,376.9V379.20M178.99,376.9V379.20M180.46,376.9V379.20" stroke="#000" stroke-width="1.0" fill="none"/>
<clipPath id="h188_341"><rect x="188.6" y="341.3" width="36.20" height="35.60"/></clipPath>
<g clip-path="url(#h188_341)">
<g transform="translate(185,338) scale(0.10173)"><path d="M120.0,380.0 C120.8,372.0 120.2,338.0 125.0,330.0 C129.8,322.0 141.2,336.4 150.0,330.0 C158.8,323.6 172.0,314.0 180.0,290.0 C188.0,266.0 194.4,208.8 200.0,180.0 C205.6,151.2 210.5,126.8 215.0,110.0 C219.5,93.2 223.2,71.8 228.0,75.0 C232.8,78.2 239.9,106.8 245.0,130.0 C250.1,153.2 255.2,192.8 260.0,220.0 C264.8,247.2 268.6,274.4 275.0,300.0 C281.4,325.6 296.0,367.2 300.0,380.0 Z" fill="#ecadbd" stroke="#95163e" stroke-width="9" fill-opacity="0.9"/></g>
<g transform="translate(185,338) scale(0.10173)"><path d="M100,380 L110,200 L115,45 L122,200 L130,330 L140,380 Z" fill="#b0304f" stroke="#95163e" stroke-width="8" /></g>
<g transform="translate(185,338) scale(0.10173)"><path d="M125.0,330.0 C129.0,330.8 141.2,340.6 150.0,335.0 C158.8,329.4 172.0,319.8 180.0,295.0 C188.0,270.2 192.3,216.0 200.0,180.0 C207.7,144.0 220.0,74.8 228.0,70.0 C236.0,65.2 243.3,116.4 250.0,150.0 C256.7,183.6 262.0,243.2 270.0,280.0 C278.0,316.8 295.2,364.0 300.0,380.0" fill="none" stroke="#95163e" stroke-width="11" stroke-linejoin="round"/></g>
</g>
<rect x="188.6" y="341.3" width="36.20" height="35.60" fill="none" stroke="#000" stroke-width="1.15"/>
<path d="M186.70,345.75H188.6M186.70,350.20H188.6M186.70,354.65H188.6M186.70,359.10H188.6M186.70,363.55H188.6M186.70,368.00H188.6M186.70,372.45H188.6M190.77,376.9V379.20M192.22,376.9V379.20M193.67,376.9V379.20M195.12,376.9V379.20M198.74,376.9V379.20M200.18,376.9V379.20M201.63,376.9V379.20M203.08,376.9V379.20M205.61,376.9V379.20M207.06,376.9V379.20M208.51,376.9V379.20M210.32,376.9V379.20M212.85,376.9V379.20M214.30,376.9V379.20M215.75,376.9V379.20M217.56,376.9V379.20M220.09,376.9V379.20M221.54,376.9V379.20M222.99,376.9V379.20" stroke="#000" stroke-width="1.0" fill="none"/>
<clipPath id="h231_341"><rect x="231.1" y="341.3" width="35.60" height="35.60"/></clipPath>
<g clip-path="url(#h231_341)">
<g transform="translate(227,338) scale(0.10173)"><path d="M110.0,380.0 C110.8,351.2 113.4,251.2 115.0,200.0 C116.6,148.8 116.0,79.2 120.0,60.0 C124.0,40.8 135.5,57.6 140.0,80.0 C144.5,102.4 145.6,168.0 148.0,200.0 C150.4,232.0 151.5,259.2 155.0,280.0 C158.5,300.8 159.6,318.0 170.0,330.0 C180.4,342.0 199.2,348.6 220.0,355.0 C240.8,361.4 277.6,366.0 300.0,370.0 C322.4,374.0 350.4,378.4 360.0,380.0 Z" fill="#ecadbd" stroke="#95163e" stroke-width="9" fill-opacity="0.9"/></g>
<g transform="translate(227,338) scale(0.10173)"><path d="M115.0,380.0 C115.5,330.4 114.8,119.6 118.0,70.0 C121.2,20.4 129.9,38.0 135.0,70.0 C140.1,102.0 143.6,227.6 150.0,270.0 C156.4,312.4 162.2,322.2 175.0,335.0 C187.8,347.8 210.0,345.2 230.0,350.0 C250.0,354.8 279.2,360.2 300.0,365.0 C320.8,369.8 350.4,377.6 360.0,380.0" fill="none" stroke="#95163e" stroke-width="11" stroke-linejoin="round"/></g>
</g>
<rect x="231.1" y="341.3" width="35.60" height="35.60" fill="none" stroke="#000" stroke-width="1.15"/>
<path d="M229.20,345.75H231.1M229.20,350.20H231.1M229.20,354.65H231.1M229.20,359.10H231.1M229.20,363.55H231.1M229.20,368.00H231.1M229.20,372.45H231.1M233.24,376.9V379.20M234.66,376.9V379.20M236.08,376.9V379.20M237.51,376.9V379.20M241.07,376.9V379.20M242.49,376.9V379.20M243.92,376.9V379.20M245.34,376.9V379.20M247.83,376.9V379.20M249.26,376.9V379.20M250.68,376.9V379.20M252.46,376.9V379.20M254.95,376.9V379.20M256.38,376.9V379.20M257.80,376.9V379.20M259.58,376.9V379.20M262.07,376.9V379.20M263.50,376.9V379.20M264.92,376.9V379.20" stroke="#000" stroke-width="1.0" fill="none"/>
<text x="145.2" y="336.2" font-size="8.6" textLength="16.2" lengthAdjust="spacingAndGlyphs" fill="#2a2a2a" >B220</text>
<line x1="163.8" y1="333.3" x2="178.70000000000002" y2="333.3" stroke="#111" stroke-width="1.1" />
<path d="M182.4,333.3 L178.20000000000002,331.3 L178.20000000000002,335.3 Z" fill="#111"/>
<text x="189.2" y="336.2" font-size="8.6" textLength="11.7" lengthAdjust="spacingAndGlyphs" fill="#2a2a2a" >Flk2</text>
<line x1="204.6" y1="333.3" x2="219.10000000000002" y2="333.3" stroke="#111" stroke-width="1.1" />
<path d="M222.8,333.3 L218.60000000000002,331.3 L218.60000000000002,335.3 Z" fill="#111"/>
<text x="232.4" y="336.2" font-size="8.6" textLength="13.4" lengthAdjust="spacingAndGlyphs" fill="#2a2a2a" >IL7R</text>
<line x1="248.6" y1="333.3" x2="263.1" y2="333.3" stroke="#111" stroke-width="1.1" />
<path d="M266.8,333.3 L262.6,331.3 L262.6,335.3 Z" fill="#111"/>
<text x="276.1" y="336.2" font-size="8.6" textLength="10.1" lengthAdjust="spacingAndGlyphs" fill="#2a2a2a" >ckit</text>
<line x1="289" y1="333.3" x2="300.2" y2="333.3" stroke="#111" stroke-width="1.1" />
<path d="M303.9,333.3 L299.7,331.3 L299.7,335.3 Z" fill="#111"/>
<text x="146.4" y="391.0" font-size="8.6" textLength="13.0" lengthAdjust="spacingAndGlyphs" fill="#2a2a2a" >Sca1</text>
<line x1="163.8" y1="388.1" x2="178.70000000000002" y2="388.1" stroke="#111" stroke-width="1.1" />
<path d="M182.4,388.1 L178.20000000000002,386.1 L178.20000000000002,390.1 Z" fill="#111"/>
<text x="190.8" y="391.0" font-size="8.6" textLength="16.2" lengthAdjust="spacingAndGlyphs" fill="#2a2a2a" >CD27</text>
<line x1="209" y1="388.1" x2="222.70000000000002" y2="388.1" stroke="#111" stroke-width="1.1" />
<path d="M226.4,388.1 L222.20000000000002,386.1 L222.20000000000002,390.1 Z" fill="#111"/>
<text x="234.1" y="391.0" font-size="8.6" textLength="13.7" lengthAdjust="spacingAndGlyphs" fill="#2a2a2a" >Ly6d</text>
<line x1="250.2" y1="388.1" x2="265.1" y2="388.1" stroke="#111" stroke-width="1.1" />
<path d="M268.8,388.1 L264.6,386.1 L264.6,390.1 Z" fill="#111"/>
<line x1="136.7" y1="295.0" x2="136.7" y2="323.2" stroke="#111" stroke-width="1.2" />
<path d="M136.7,289.9 L134.6,295.5 L138.79999999999998,295.5 Z" fill="#111"/>
<line x1="136.8" y1="350.0" x2="136.8" y2="377.7" stroke="#111" stroke-width="1.2" />
<path d="M136.8,344.9 L134.70000000000002,350.5 L138.9,350.5 Z" fill="#111"/>
<text transform="translate(131.8,306.2) rotate(-90)" x="0" y="0" font-size="9.2" text-anchor="middle" textLength="21.2" lengthAdjust="spacingAndGlyphs" fill="#1a1a1a">Counts</text>
<text transform="translate(131.8,360.8) rotate(-90)" x="0" y="0" font-size="9.2" text-anchor="middle" textLength="20.8" lengthAdjust="spacingAndGlyphs" fill="#1a1a1a">Counts</text>
<rect x="270.3" y="352.4" width="5.1" height="4.4" fill="#eaa9b9" stroke="#b8486a" stroke-width="0.7"/>
<rect x="270.3" y="364.3" width="5.1" height="4.4" fill="#fff" stroke="#c86080" stroke-width="0.7"/>
<text x="278.5" y="356.4" font-size="5.0" fill="#1a1a1a" textLength="32.9" lengthAdjust="spacingAndGlyphs">Notch<tspan font-size="3.3" dy="-2">hi</tspan><tspan dy="2">CD19</tspan><tspan font-size="3.3" dy="-2">-</tspan></text>
<text x="278.5" y="368.4" font-size="5.0" fill="#1a1a1a" textLength="38.3" lengthAdjust="spacingAndGlyphs">Notch1<tspan font-size="3.3" dy="-2">lo</tspan><tspan dy="2">CD19</tspan><tspan font-size="3.3" dy="-2">+</tspan></text>
<clipPath id="h341_285"><rect x="341.6" y="285.7" width="45.70" height="45.70"/></clipPath>
<g clip-path="url(#h341_285)">
<g transform="translate(337,282) scale(0.13072)"><path d="M105.0,378.0 C107.4,365.5 116.0,328.5 120.0,300.0 C124.0,271.5 126.8,235.2 130.0,200.0 C133.2,164.8 136.8,102.4 140.0,80.0 C143.2,57.6 146.8,56.8 150.0,60.0 C153.2,63.2 156.8,72.8 160.0,100.0 C163.2,127.2 166.0,194.8 170.0,230.0 C174.0,265.2 178.6,299.2 185.0,320.0 C191.4,340.8 198.0,351.2 210.0,360.0 C222.0,368.8 245.6,372.1 260.0,375.0 C274.4,377.9 293.6,377.5 300.0,378.0 Z" fill="#b8284f" stroke="#8a1436" stroke-width="6" /></g>
</g>
<rect x="341.6" y="285.7" width="45.70" height="45.70" fill="none" stroke="#000" stroke-width="1.15"/>
<path d="M339.70,291.41H341.6M339.70,297.12H341.6M339.70,302.84H341.6M339.70,308.55H341.6M339.70,314.26H341.6M339.70,319.97H341.6M339.70,325.69H341.6M344.34,331.4V333.70M346.17,331.4V333.70M348.00,331.4V333.70M349.83,331.4V333.70M354.40,331.4V333.70M356.22,331.4V333.70M358.05,331.4V333.70M359.88,331.4V333.70M363.08,331.4V333.70M364.91,331.4V333.70M366.74,331.4V333.70M369.02,331.4V333.70M372.22,331.4V333.70M374.05,331.4V333.70M375.88,331.4V333.70M378.16,331.4V333.70M381.36,331.4V333.70M383.19,331.4V333.70M385.01,331.4V333.70" stroke="#000" stroke-width="1.0" fill="none"/>
<clipPath id="h341_338"><rect x="341.3" y="338.6" width="46.00" height="45.70"/></clipPath>
<g clip-path="url(#h341_338)">
<g transform="translate(337,334) scale(0.13072)"><path d="M108.0,385.0 C109.6,380.2 114.5,364.6 118.0,355.0 C121.5,345.4 126.5,328.2 130.0,325.0 C133.5,321.8 135.2,328.1 140.0,335.0 C144.8,341.9 152.0,361.3 160.0,368.0 C168.0,374.7 178.8,379.6 190.0,377.0 C201.2,374.4 218.8,365.6 230.0,352.0 C241.2,338.4 252.8,316.3 260.0,292.0 C267.2,267.7 271.0,232.3 275.0,200.0 C279.0,167.7 282.1,112.7 285.0,90.0 C287.9,67.3 289.8,51.6 293.0,58.0 C296.2,64.4 300.7,100.9 305.0,130.0 C309.3,159.1 314.4,208.0 320.0,240.0 C325.6,272.0 334.4,309.2 340.0,330.0 C345.6,350.8 349.9,361.2 355.0,370.0 C360.1,378.8 369.3,382.6 372.0,385.0 Z" fill="#b8284f" stroke="#8a1436" stroke-width="6" /></g>
</g>
<rect x="341.3" y="338.6" width="46.00" height="45.70" fill="none" stroke="#000" stroke-width="1.15"/>
<path d="M339.40,344.31H341.3M339.40,350.03H341.3M339.40,355.74H341.3M339.40,361.45H341.3M339.40,367.16H341.3M339.40,372.88H341.3M339.40,378.59H341.3M344.06,384.3V386.60M345.90,384.3V386.60M347.74,384.3V386.60M349.58,384.3V386.60M354.18,384.3V386.60M356.02,384.3V386.60M357.86,384.3V386.60M359.70,384.3V386.60M362.92,384.3V386.60M364.76,384.3V386.60M366.60,384.3V386.60M368.90,384.3V386.60M372.12,384.3V386.60M373.96,384.3V386.60M375.80,384.3V386.60M378.10,384.3V386.60M381.32,384.3V386.60M383.16,384.3V386.60M385.00,384.3V386.60" stroke="#000" stroke-width="1.0" fill="none"/>
<line x1="350.7" y1="306.2" x2="387.3" y2="306.2" stroke="#000" stroke-width="0.9" />
<line x1="350.7" y1="305.0" x2="350.7" y2="307.4" stroke="#000" stroke-width="0.8" />
<circle cx="361.8" cy="306.2" r="0.8" fill="#000"/>
<text x="360.2" y="296.8" font-size="5.3" fill="#1a1a1a">GFP<tspan font-size="3.4" dy="-2">+</tspan></text>
<text x="361.7" y="303.0" font-size="5.3" fill="#1a1a1a"  style="stroke-width:0.05px">2.7</text>
<line x1="351.1" y1="359.1" x2="387.3" y2="359.1" stroke="#000" stroke-width="0.9" />
<line x1="351.1" y1="357.90000000000003" x2="351.1" y2="360.3" stroke="#000" stroke-width="0.8" />
<circle cx="361.8" cy="359.1" r="0.8" fill="#000"/>
<text x="360.2" y="350.6" font-size="5.3" fill="#1a1a1a">GFP<tspan font-size="3.4" dy="-2">+</tspan></text>
<text x="361.7" y="356.8" font-size="5.3" fill="#1a1a1a"  style="stroke-width:0.05px">90.1</text>
<text transform="translate(333.8,306.5) rotate(-90)" x="0" y="0" font-size="7.9" text-anchor="middle" textLength="15.5" lengthAdjust="spacingAndGlyphs" fill="#1a1a1a">-dox</text>
<text transform="translate(333.8,361.2) rotate(-90)" x="0" y="0" font-size="7.9" text-anchor="middle" textLength="16.4" lengthAdjust="spacingAndGlyphs" fill="#1a1a1a">+dox</text>
<text x="346.9" y="398.2" font-size="8.2" textLength="10.8" lengthAdjust="spacingAndGlyphs" fill="#1a1a1a" >GFP</text>
<line x1="361.2" y1="395.4" x2="380.70000000000005" y2="395.4" stroke="#111" stroke-width="1.1" />
<path d="M384.6,395.4 L380.20000000000005,393.5 L380.20000000000005,397.29999999999995 Z" fill="#111"/>
<text x="434.3" y="280.2" font-size="6.3" text-anchor="middle" fill="#1a1a1a">GFP<tspan font-size="4" dy="-2.4">-</tspan></text>
<text x="487.9" y="280.2" font-size="6.3" text-anchor="middle" fill="#1a1a1a">GFP<tspan font-size="4" dy="-2.4">+</tspan></text>
<clipPath id="f412_285"><rect x="412" y="285.1" width="47.00" height="45.40"/></clipPath>
<g clip-path="url(#f412_285)">
<g transform="translate(408,282) scale(0.12594)"><path d="M32,110 C80,108 170,115 205,140 C225,160 232,185 240,200 C270,215 292,260 296,300 C296,340 270,352 240,346 C200,340 150,322 110,302 C80,285 50,265 32,252 Z" fill="#0a0a0a" stroke="none" stroke-width="0" /></g>
<g transform="translate(408,282) scale(0.12594)"><path d="M75,262 C105,285 150,298 195,290 M95,292 C135,306 175,310 212,302 M150,272 C180,265 205,252 222,242" fill="none" stroke="#d0d0d0" stroke-width="5" /></g>
<g transform="translate(408,282) scale(0.12594)"><path d="M120,285 C150,290 175,288 200,280" fill="none" stroke="#888" stroke-width="4" /></g>
<g transform="translate(408,282) scale(0.12594)"><path d="M232,205 a13,10 0 1,0 26,0 a13,10 0 1,0 -26,0 Z" fill="none" stroke="#bbb" stroke-width="5" /></g>
<g transform="translate(408,282) scale(0.12594)"><path d="M225,250 C240,265 250,285 255,310" fill="none" stroke="#555" stroke-width="5" /></g>
</g>
<line x1="432.6" y1="285.1" x2="432.6" y2="330.5" stroke="#333" stroke-width="0.8" />
<line x1="412" y1="313.5" x2="459" y2="313.5" stroke="#333" stroke-width="0.8" />
<rect x="412" y="285.1" width="47.00" height="45.40" fill="none" stroke="#000" stroke-width="1.15"/>
<path d="M409.20,291.00H412M409.20,301.44H412M409.20,314.16H412M409.20,322.33H412M409.20,330.50H412M410.00,310.33H412M410.00,308.09H412M410.00,306.50H412M410.00,305.27H412M410.00,304.26H412M410.00,303.41H412M410.00,302.68H412M410.00,302.03H412M410.00,298.30H412M410.00,296.46H412M410.00,295.16H412M410.00,294.15H412M410.00,293.32H412M410.00,292.62H412M410.00,292.01H412M410.00,291.48H412M410.00,287.86H412M410.00,286.02H412M410.00,315.97H412M410.00,317.79H412M410.00,319.60H412M410.00,324.14H412M410.00,325.96H412M410.00,327.78H412M412.00,330.5V333.50M421.40,330.5V333.50M431.27,330.5V333.50M441.61,330.5V333.50M453.36,330.5V333.50M434.38,330.5V332.90M436.20,330.5V332.90M437.50,330.5V332.90M438.50,330.5V332.90M439.32,330.5V332.90M440.01,330.5V332.90M440.61,330.5V332.90M441.14,330.5V332.90M445.15,330.5V332.90M447.22,330.5V332.90M448.68,330.5V332.90M449.82,330.5V332.90M450.75,330.5V332.90M451.54,330.5V332.90M452.22,330.5V332.90M452.82,330.5V332.90M456.90,330.5V332.90M458.97,330.5V332.90M413.88,330.5V332.90M415.76,330.5V332.90M417.64,330.5V332.90M419.52,330.5V332.90M423.75,330.5V332.90M425.63,330.5V332.90M427.51,330.5V332.90M429.39,330.5V332.90" stroke="#000" stroke-width="1.05" fill="none"/>
<text x="414.4" y="292.1" font-size="5.6" fill="#1a1a1a"  style="stroke-width:0.05px">80.1</text>
<text x="455.6" y="328.1" font-size="5.6" text-anchor="end" fill="#1a1a1a"  style="stroke-width:0.05px">10.4</text>
<clipPath id="f465_285"><rect x="465.1" y="285.1" width="46.60" height="45.40"/></clipPath>
<g clip-path="url(#f465_285)">
<g transform="translate(462,295) scale(0.09615)"><path d="M110,232 a55,36 0 1,0 110,0 a55,36 0 1,0 -110,0 Z" fill="#8a8a8a" stroke="#111" stroke-width="12" /></g>
<g transform="translate(462,295) scale(0.09615)"><path d="M156,232 a14,9 0 1,0 28,0 a14,9 0 1,0 -28,0 Z" fill="#eee" stroke="none" stroke-width="0" /></g>
<g transform="translate(462,295) scale(0.09615)"><path d="M268,95 C290,85 335,95 350,120 L362,270 C357,300 330,305 300,300 L280,260 C268,220 263,180 268,140 Z" fill="#151515" stroke="none" stroke-width="0" /></g>
<g transform="translate(462,295) scale(0.09615)"><path d="M287,165 a11,20 0 1,0 22,0 a11,20 0 1,0 -22,0 Z" fill="#f0f0f0" stroke="none" stroke-width="0" /></g>
<g transform="translate(462,295) scale(0.09615)"><path d="M254,272 a46,34 0 1,0 92,0 a46,34 0 1,0 -92,0 Z" fill="#777" stroke="#111" stroke-width="12" /></g>
<g transform="translate(462,295) scale(0.09615)"><path d="M288,282 a12,9 0 1,0 24,0 a12,9 0 1,0 -24,0 Z" fill="#eee" stroke="none" stroke-width="0" /></g>
<g transform="translate(462,295) scale(0.09615)"><path d="M20,0 L240,12 C262,28 282,60 286,90 C282,130 262,160 230,180 C190,200 140,196 90,176 C60,162 40,152 20,146 Z" fill="#0a0a0a" stroke="none" stroke-width="0" /></g>
</g>
<line x1="485.3" y1="285.1" x2="485.3" y2="330.5" stroke="#333" stroke-width="0.8" />
<line x1="465.1" y1="313.2" x2="511.7" y2="313.2" stroke="#333" stroke-width="0.8" />
<rect x="465.1" y="285.1" width="46.60" height="45.40" fill="none" stroke="#000" stroke-width="1.15"/>
<path d="M462.30,291.00H465.1M462.30,301.44H465.1M462.30,314.16H465.1M462.30,322.33H465.1M462.30,330.50H465.1M463.10,310.33H465.1M463.10,308.09H465.1M463.10,306.50H465.1M463.10,305.27H465.1M463.10,304.26H465.1M463.10,303.41H465.1M463.10,302.68H465.1M463.10,302.03H465.1M463.10,298.30H465.1M463.10,296.46H465.1M463.10,295.16H465.1M463.10,294.15H465.1M463.10,293.32H465.1M463.10,292.62H465.1M463.10,292.01H465.1M463.10,291.48H465.1M463.10,287.86H465.1M463.10,286.02H465.1M463.10,315.97H465.1M463.10,317.79H465.1M463.10,319.60H465.1M463.10,324.14H465.1M463.10,325.96H465.1M463.10,327.78H465.1M465.10,330.5V333.50M474.42,330.5V333.50M484.21,330.5V333.50M494.46,330.5V333.50M506.11,330.5V333.50M487.29,330.5V332.90M489.10,330.5V332.90M490.38,330.5V332.90M491.37,330.5V332.90M492.18,330.5V332.90M492.87,330.5V332.90M493.46,330.5V332.90M493.99,330.5V332.90M497.96,330.5V332.90M500.02,330.5V332.90M501.47,330.5V332.90M502.60,330.5V332.90M503.52,330.5V332.90M504.30,330.5V332.90M504.98,330.5V332.90M505.57,330.5V332.90M509.61,330.5V332.90M511.67,330.5V332.90M466.96,330.5V332.90M468.83,330.5V332.90M470.69,330.5V332.90M472.56,330.5V332.90M476.75,330.5V332.90M478.61,330.5V332.90M480.48,330.5V332.90M482.34,330.5V332.90" stroke="#000" stroke-width="1.05" fill="none"/>
<text x="467.5" y="292.1" font-size="5.6" fill="#1a1a1a"  style="stroke-width:0.05px">83.0</text>
<text x="508.3" y="328.1" font-size="5.6" text-anchor="end" fill="#1a1a1a"  style="stroke-width:0.05px">7.4</text>
<clipPath id="f412_338"><rect x="412" y="338.4" width="47.00" height="45.30"/></clipPath>
<g clip-path="url(#f412_338)">
<g transform="translate(410,348) scale(0.09615)"><path d="M15,2 L220,10 C255,35 272,70 266,112 C300,138 346,170 361,220 C371,270 361,316 330,326 C290,331 240,301 210,271 C190,251 180,236 170,216 L130,206 C80,196 40,176 15,160 Z" fill="#0a0a0a" stroke="none" stroke-width="0" /></g>
<g transform="translate(410,348) scale(0.09615)"><path d="M112,218 C130,202 170,202 200,210 C190,236 170,255 142,255 C122,250 112,236 112,218 Z" fill="#eee" stroke="#888" stroke-width="6" /></g>
<g transform="translate(410,348) scale(0.09615)"><path d="M235,240 a40,24 0 1,0 80,0 a40,24 0 1,0 -80,0 Z" fill="#444" stroke="none" stroke-width="0" /></g>
<g transform="translate(410,348) scale(0.09615)"><path d="M240,150 C270,150 290,165 300,185" fill="none" stroke="#777" stroke-width="6" /></g>
</g>
<line x1="432.2" y1="338.4" x2="432.2" y2="383.7" stroke="#333" stroke-width="0.8" />
<line x1="412" y1="366.5" x2="459" y2="366.5" stroke="#333" stroke-width="0.8" />
<rect x="412" y="338.4" width="47.00" height="45.30" fill="none" stroke="#000" stroke-width="1.15"/>
<path d="M409.20,344.29H412M409.20,354.71H412M409.20,367.39H412M409.20,375.55H412M409.20,383.70H412M410.00,363.57H412M410.00,361.34H412M410.00,359.76H412M410.00,358.53H412M410.00,357.52H412M410.00,356.67H412M410.00,355.94H412M410.00,355.29H412M410.00,351.57H412M410.00,349.74H412M410.00,348.44H412M410.00,347.43H412M410.00,346.60H412M410.00,345.90H412M410.00,345.30H412M410.00,344.77H412M410.00,341.15H412M410.00,339.32H412M410.00,369.20H412M410.00,371.02H412M410.00,372.83H412M410.00,377.36H412M410.00,379.17H412M410.00,380.98H412M412.00,383.7V386.70M421.40,383.7V386.70M431.27,383.7V386.70M441.61,383.7V386.70M453.36,383.7V386.70M434.38,383.7V386.10M436.20,383.7V386.10M437.50,383.7V386.10M438.50,383.7V386.10M439.32,383.7V386.10M440.01,383.7V386.10M440.61,383.7V386.10M441.14,383.7V386.10M445.15,383.7V386.10M447.22,383.7V386.10M448.68,383.7V386.10M449.82,383.7V386.10M450.75,383.7V386.10M451.54,383.7V386.10M452.22,383.7V386.10M452.82,383.7V386.10M456.90,383.7V386.10M458.97,383.7V386.10M413.88,383.7V386.10M415.76,383.7V386.10M417.64,383.7V386.10M419.52,383.7V386.10M423.75,383.7V386.10M425.63,383.7V386.10M427.51,383.7V386.10M429.39,383.7V386.10" stroke="#000" stroke-width="1.05" fill="none"/>
<text x="414.4" y="345.4" font-size="5.6" fill="#1a1a1a"  style="stroke-width:0.05px">80.0</text>
<text x="455.6" y="381.3" font-size="5.6" text-anchor="end" fill="#1a1a1a"  style="stroke-width:0.05px">12.0</text>
<clipPath id="f465_338"><rect x="465.1" y="338.4" width="46.00" height="45.30"/></clipPath>
<g clip-path="url(#f465_338)">
<g transform="translate(462,348) scale(0.09615)"><path d="M85,250 a55,30 0 1,0 110,0 a55,30 0 1,0 -110,0 Z" fill="#dcdcdc" stroke="none" stroke-width="0" /></g>
<g transform="translate(462,348) scale(0.09615)"><path d="M140,200 C180,170 230,130 280,130 C330,135 370,180 375,230 C378,280 365,320 340,325 C300,320 250,300 200,262 Z" fill="#444" stroke="#0a0a0a" stroke-width="14" /></g>
<g transform="translate(462,348) scale(0.09615)"><path d="M265,240 a35,30 0 1,0 70,0 a35,30 0 1,0 -70,0 Z" fill="#8a8a8a" stroke="none" stroke-width="0" /></g>
<g transform="translate(462,348) scale(0.09615)"><path d="M30,2 L220,10 C255,30 277,68 272,110 C262,150 222,180 172,190 C140,195 100,180 70,160 L30,120 Z" fill="#0a0a0a" stroke="none" stroke-width="0" /></g>
</g>
<line x1="485.7" y1="338.4" x2="485.7" y2="383.7" stroke="#333" stroke-width="0.8" />
<line x1="465.1" y1="366.5" x2="511.1" y2="366.5" stroke="#333" stroke-width="0.8" />
<rect x="465.1" y="338.4" width="46.00" height="45.30" fill="none" stroke="#000" stroke-width="1.15"/>
<path d="M462.30,344.29H465.1M462.30,354.71H465.1M462.30,367.39H465.1M462.30,375.55H465.1M462.30,383.70H465.1M463.10,363.57H465.1M463.10,361.34H465.1M463.10,359.76H465.1M463.10,358.53H465.1M463.10,357.52H465.1M463.10,356.67H465.1M463.10,355.94H465.1M463.10,355.29H465.1M463.10,351.57H465.1M463.10,349.74H465.1M463.10,348.44H465.1M463.10,347.43H465.1M463.10,346.60H465.1M463.10,345.90H465.1M463.10,345.30H465.1M463.10,344.77H465.1M463.10,341.15H465.1M463.10,339.32H465.1M463.10,369.20H465.1M463.10,371.02H465.1M463.10,372.83H465.1M463.10,377.36H465.1M463.10,379.17H465.1M463.10,380.98H465.1M465.10,383.7V386.70M474.30,383.7V386.70M483.96,383.7V386.70M494.08,383.7V386.70M505.58,383.7V386.70M487.01,383.7V386.10M488.79,383.7V386.10M490.05,383.7V386.10M491.03,383.7V386.10M491.83,383.7V386.10M492.51,383.7V386.10M493.10,383.7V386.10M493.62,383.7V386.10M497.54,383.7V386.10M499.57,383.7V386.10M501.00,383.7V386.10M502.12,383.7V386.10M503.03,383.7V386.10M503.80,383.7V386.10M504.47,383.7V386.10M505.05,383.7V386.10M509.04,383.7V386.10M511.07,383.7V386.10M466.94,383.7V386.10M468.78,383.7V386.10M470.62,383.7V386.10M472.46,383.7V386.10M476.60,383.7V386.10M478.44,383.7V386.10M480.28,383.7V386.10M482.12,383.7V386.10" stroke="#000" stroke-width="1.05" fill="none"/>
<text x="467.5" y="345.4" font-size="5.6" fill="#1a1a1a"  style="stroke-width:0.05px">84.2</text>
<text x="507.70000000000005" y="381.3" font-size="5.6" text-anchor="end" fill="#1a1a1a"  style="stroke-width:0.05px">9.3</text>
<line x1="403.4" y1="370.8" x2="403.4" y2="393.5" stroke="#111" stroke-width="1.2" />
<path d="M403.4,366.3 L401.2,371.3 L405.59999999999997,371.3 Z" fill="#111"/>
<line x1="403.4" y1="393.5" x2="425.3" y2="393.5" stroke="#111" stroke-width="1.2" />
<path d="M429.8,393.5 L424.8,391.3 L424.8,395.7 Z" fill="#111"/>
<text transform="translate(398.4,382) rotate(-90)" x="0" y="0" font-size="8.4" text-anchor="middle" textLength="16.7" lengthAdjust="spacingAndGlyphs" fill="#1a1a1a">CD27</text>
<text x="406.3" y="403.7" font-size="8.4" textLength="16.7" lengthAdjust="spacingAndGlyphs" fill="#1a1a1a" >CD19</text>
<rect x="0" y="0" width="520" height="1" fill="#000"/>
<rect x="0" y="0" width="1" height="413" fill="#000"/>
<rect x="518.4" y="0" width="1.6" height="413" fill="#000"/>
<rect x="0" y="411.5" width="520" height="1.5" fill="#000"/>
</g>
</svg>
</body></html>
